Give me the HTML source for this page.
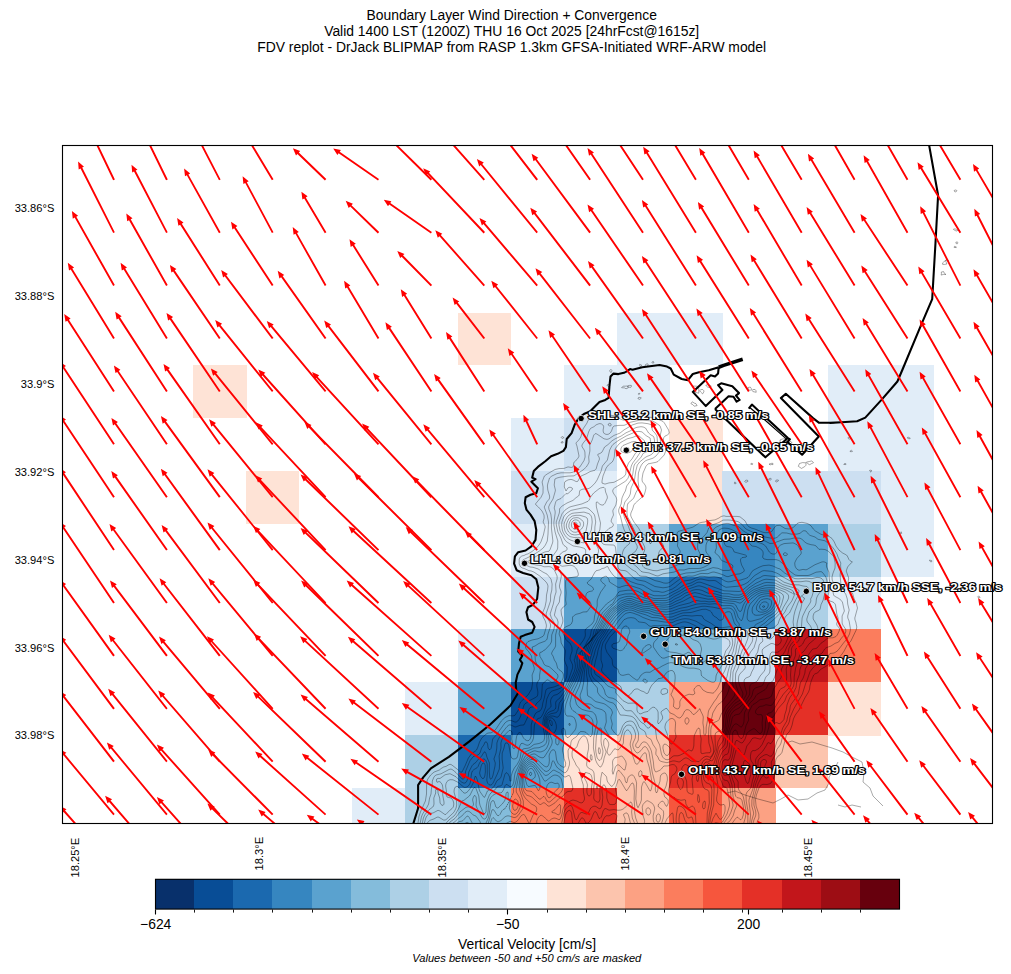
<!DOCTYPE html>
<html><head><meta charset="utf-8"><title>Boundary Layer Wind Direction + Convergence</title>
<style>html,body{margin:0;padding:0;background:#fff;font-family:"Liberation Sans",sans-serif}svg{display:block}svg text{font-family:"Liberation Sans",sans-serif}</style></head>
<body>
<svg width="1011" height="974" viewBox="0 0 1011 974">
<rect width="1011" height="974" fill="#fff"/>
<defs><clipPath id="ax"><rect x="62.50" y="145.50" width="930.00" height="678.00"/></clipPath></defs>
<g clip-path="url(#ax)">
<g shape-rendering="crispEdges">
<rect x="193.35" y="364.95" width="53.20" height="53.20" fill="#fee3d6"/>
<rect x="246.25" y="470.75" width="53.20" height="53.20" fill="#fee3d6"/>
<rect x="352.05" y="788.15" width="53.20" height="53.20" fill="#e1edf8"/>
<rect x="404.95" y="682.35" width="53.20" height="53.20" fill="#e1edf8"/>
<rect x="404.95" y="735.25" width="53.20" height="53.20" fill="#add0e6"/>
<rect x="404.95" y="788.15" width="53.20" height="53.20" fill="#add0e6"/>
<rect x="457.85" y="313.00" width="53.20" height="52.25" fill="#fee3d6"/>
<rect x="457.85" y="629.45" width="53.20" height="53.20" fill="#e1edf8"/>
<rect x="457.85" y="682.35" width="53.20" height="53.20" fill="#5aa2cf"/>
<rect x="457.85" y="735.25" width="53.20" height="53.20" fill="#1b69af"/>
<rect x="457.85" y="788.15" width="53.20" height="53.20" fill="#84bcdb"/>
<rect x="510.75" y="417.85" width="53.20" height="53.20" fill="#e1edf8"/>
<rect x="510.75" y="470.75" width="53.20" height="53.20" fill="#ccdff1"/>
<rect x="510.75" y="523.65" width="53.20" height="53.20" fill="#e1edf8"/>
<rect x="510.75" y="576.55" width="53.20" height="53.20" fill="#ccdff1"/>
<rect x="510.75" y="629.45" width="53.20" height="53.20" fill="#5aa2cf"/>
<rect x="510.75" y="682.35" width="53.20" height="53.20" fill="#084d96"/>
<rect x="510.75" y="735.25" width="53.20" height="53.20" fill="#5aa2cf"/>
<rect x="510.75" y="788.15" width="53.20" height="53.20" fill="#fb7d5d"/>
<rect x="563.65" y="364.95" width="53.20" height="53.20" fill="#e1edf8"/>
<rect x="563.65" y="417.85" width="53.20" height="53.20" fill="#ccdff1"/>
<rect x="563.65" y="470.75" width="53.20" height="53.20" fill="#e1edf8"/>
<rect x="563.65" y="523.65" width="53.20" height="53.20" fill="#e1edf8"/>
<rect x="563.65" y="576.55" width="53.20" height="53.20" fill="#5aa2cf"/>
<rect x="563.65" y="629.45" width="53.20" height="53.20" fill="#084d96"/>
<rect x="563.65" y="682.35" width="53.20" height="53.20" fill="#5aa2cf"/>
<rect x="563.65" y="735.25" width="53.20" height="53.20" fill="#fee3d6"/>
<rect x="563.65" y="788.15" width="53.20" height="53.20" fill="#e43027"/>
<rect x="616.55" y="313.00" width="53.20" height="52.25" fill="#e1edf8"/>
<rect x="616.55" y="364.95" width="53.20" height="53.20" fill="#e1edf8"/>
<rect x="616.55" y="523.65" width="53.20" height="53.20" fill="#add0e6"/>
<rect x="616.55" y="576.55" width="53.20" height="53.20" fill="#3686c0"/>
<rect x="616.55" y="629.45" width="53.20" height="53.20" fill="#5aa2cf"/>
<rect x="616.55" y="682.35" width="53.20" height="53.20" fill="#add0e6"/>
<rect x="616.55" y="735.25" width="53.20" height="53.20" fill="#fcc4ad"/>
<rect x="616.55" y="788.15" width="53.20" height="53.20" fill="#fcc4ad"/>
<rect x="669.45" y="313.00" width="53.20" height="52.25" fill="#e1edf8"/>
<rect x="669.45" y="417.85" width="53.20" height="53.20" fill="#fee3d6"/>
<rect x="669.45" y="470.75" width="53.20" height="53.20" fill="#fee3d6"/>
<rect x="669.45" y="523.65" width="53.20" height="53.20" fill="#5aa2cf"/>
<rect x="669.45" y="576.55" width="53.20" height="53.20" fill="#1b69af"/>
<rect x="669.45" y="629.45" width="53.20" height="53.20" fill="#84bcdb"/>
<rect x="669.45" y="682.35" width="53.20" height="53.20" fill="#fca183"/>
<rect x="669.45" y="735.25" width="53.20" height="53.20" fill="#e43027"/>
<rect x="669.45" y="788.15" width="53.20" height="53.20" fill="#f6563d"/>
<rect x="722.35" y="470.75" width="53.20" height="53.20" fill="#ccdff1"/>
<rect x="722.35" y="523.65" width="53.20" height="53.20" fill="#3686c0"/>
<rect x="722.35" y="576.55" width="53.20" height="53.20" fill="#3686c0"/>
<rect x="722.35" y="629.45" width="53.20" height="53.20" fill="#ccdff1"/>
<rect x="722.35" y="682.35" width="53.20" height="53.20" fill="#67000d"/>
<rect x="722.35" y="735.25" width="53.20" height="53.20" fill="#c2161b"/>
<rect x="722.35" y="788.15" width="53.20" height="53.20" fill="#fca183"/>
<rect x="775.25" y="470.75" width="53.20" height="53.20" fill="#ccdff1"/>
<rect x="775.25" y="523.65" width="53.20" height="53.20" fill="#5aa2cf"/>
<rect x="775.25" y="576.55" width="53.20" height="53.20" fill="#add0e6"/>
<rect x="775.25" y="629.45" width="53.20" height="53.20" fill="#c2161b"/>
<rect x="775.25" y="682.35" width="53.20" height="53.20" fill="#e43027"/>
<rect x="775.25" y="735.25" width="53.20" height="53.20" fill="#fcc4ad"/>
<rect x="828.15" y="364.95" width="53.20" height="53.20" fill="#e1edf8"/>
<rect x="828.15" y="417.85" width="53.20" height="53.20" fill="#e1edf8"/>
<rect x="828.15" y="470.75" width="53.20" height="53.20" fill="#ccdff1"/>
<rect x="828.15" y="523.65" width="53.20" height="53.20" fill="#add0e6"/>
<rect x="828.15" y="576.55" width="53.20" height="53.20" fill="#e1edf8"/>
<rect x="828.15" y="629.45" width="53.20" height="53.20" fill="#fb7d5d"/>
<rect x="828.15" y="682.35" width="53.20" height="53.20" fill="#fee3d6"/>
<rect x="881.05" y="364.95" width="53.20" height="53.20" fill="#e1edf8"/>
<rect x="881.05" y="417.85" width="53.20" height="53.20" fill="#e1edf8"/>
<rect x="881.05" y="470.75" width="53.20" height="53.20" fill="#e1edf8"/>
<rect x="881.05" y="523.65" width="53.20" height="53.20" fill="#e1edf8"/>
</g>
<path d="M415.5 850.0 415.7 842.0 417.2 827.0 418.7 819.0 418.8 817.0 420.8 811.0 422.0 809.0 423.1 806.0 425.4 801.0 426.5 794.0 426.6 784.0 427.3 780.0 428.5 778.0 430.7 775.0 434.0 772.1 439.4 770.0 441.0 768.6 443.7 767.0 446.0 766.4 449.0 764.6 450.0 764.3 451.0 764.5 452.0 765.1 458.0 769.8 460.0 771.7 461.0 772.3 462.0 772.0 465.0 766.0 468.4 758.0 472.0 753.2 475.0 751.4 476.5 750.0 477.9 747.0 479.5 742.0 482.0 737.7 487.0 733.4 489.0 732.9 491.0 732.9 494.0 731.1 496.0 729.0 501.3 721.0 505.0 717.5 509.0 715.6 513.0 715.9 515.0 715.3 518.4 710.0 519.3 705.0 520.6 702.0 528.0 695.0 531.6 689.0 532.6 683.0 532.1 675.0 534.1 670.0 534.3 668.0 532.1 661.0 531.5 656.0 528.0 650.7 526.0 648.8 525.4 647.0 526.7 643.0 528.0 641.6 532.0 640.0 538.0 638.8 543.0 636.3 544.0 634.9 546.3 627.0 546.4 625.0 545.3 621.0 543.2 617.0 542.4 614.0 542.5 613.0 545.0 607.0 546.2 601.0 546.5 595.0 547.6 590.0 548.0 586.0 547.4 584.0 546.0 581.9 540.0 576.2 534.0 572.1 531.0 570.9 529.0 570.7 524.0 568.4 523.0 568.3 520.6 567.0 519.2 564.0 519.2 559.0 520.3 557.0 522.0 555.9 524.0 555.5 526.0 554.4 528.0 553.9 532.0 551.5 536.4 548.0 539.0 545.0 540.9 542.0 543.4 535.0 545.2 527.0 545.0 525.9 543.1 522.0 544.2 518.0 544.0 515.0 542.0 511.0 538.4 507.0 536.0 505.0 535.4 504.0 541.0 497.3 543.0 493.1 543.1 487.0 542.1 482.0 544.4 476.0 547.2 474.0 555.0 469.5 559.0 468.6 564.0 468.4 568.0 466.9 571.0 467.4 572.0 467.4 573.0 466.8 573.4 466.0 573.7 463.0 574.2 462.0 577.0 459.5 578.7 457.0 579.0 456.0 577.0 446.2 575.9 443.0 578.8 440.0 580.8 437.0 583.0 429.0 587.0 423.0 588.0 420.3 593.0 416.1 596.0 415.4 600.0 415.5 602.0 416.9 606.0 415.5 610.0 415.2 615.4 416.0 621.0 419.4 624.0 420.2 627.0 420.0 631.0 419.2 635.0 417.8 640.0 416.6 644.0 416.5 646.0 416.9 648.0 416.8 650.0 417.3 653.0 417.4 655.0 418.3 657.0 418.7 663.0 421.4 664.4 423.0 668.6 430.0 669.3 433.0 669.0 433.6 667.3 435.0 665.0 436.1 664.0 437.2 663.4 439.0 663.6 441.0 665.8 446.0 665.7 451.0 664.2 455.0 658.0 461.5 656.0 462.3 648.0 463.9 646.0 466.2 643.0 473.0 642.0 479.0 642.2 481.0 642.6 482.0 644.4 484.0 645.6 486.0 646.0 488.0 645.1 492.0 644.1 495.0 643.3 496.0 635.4 503.0 633.8 505.0 632.7 509.0 630.9 513.0 630.6 515.0 631.2 517.0 634.0 522.1 638.5 528.0 641.0 532.5 642.0 533.4 645.0 535.1 649.8 540.0 649.5 543.0 650.0 543.6 651.0 543.4 651.4 543.0 651.7 541.0 652.7 540.0 655.0 538.8 656.0 538.6 657.0 538.8 659.0 539.9 662.0 543.0 663.7 546.0 663.7 547.0 661.0 549.2 659.5 551.0 658.7 553.0 658.7 555.0 659.3 556.0 665.0 561.3 668.0 562.1 670.0 561.8 672.0 561.0 677.8 557.0 679.9 553.0 680.2 551.0 677.4 546.0 678.0 541.0 677.1 536.0 677.1 533.0 678.0 531.5 693.0 527.1 699.0 523.1 702.0 522.3 705.0 521.9 707.0 520.9 715.0 519.9 719.0 518.0 721.0 516.5 724.0 515.8 726.0 516.4 737.0 516.4 740.0 516.8 745.0 520.8 747.2 525.0 749.0 526.8 751.4 528.0 755.0 529.1 763.0 532.3 765.0 532.7 769.0 532.6 771.0 532.1 772.1 531.0 775.0 526.7 776.0 525.8 777.0 525.5 780.0 525.3 785.0 528.5 789.0 529.0 793.0 527.8 797.0 523.6 799.0 522.7 802.0 522.3 807.0 523.4 809.0 524.3 811.0 525.8 813.3 529.0 815.4 531.0 821.0 534.3 829.0 536.4 832.0 538.5 834.3 542.0 836.0 546.0 839.0 550.1 842.6 553.0 846.5 555.0 847.3 556.0 849.0 559.6 850.0 560.7 852.4 562.0 850.0 564.1 847.6 567.0 846.2 571.0 848.7 578.0 847.7 585.0 848.2 588.0 849.0 590.1 852.5 593.0 854.2 599.0 856.0 602.5 857.5 608.0 854.8 618.0 855.0 620.0 855.8 622.0 856.8 627.0 856.2 630.0 850.9 641.0 847.0 645.4 844.1 651.0 842.1 654.0 839.0 657.7 837.0 659.6 835.0 660.9 830.7 663.0 826.0 666.3 821.3 669.0 820.0 670.0 817.6 673.0 815.0 673.8 813.7 675.0 811.2 681.0 809.9 686.0 809.6 689.0 808.5 692.0 804.8 698.0 799.0 710.0 795.3 715.0 793.4 719.0 792.1 725.0 790.7 729.0 789.0 732.1 787.0 734.0 786.4 735.0 782.0 752.3 780.0 755.0 778.0 756.1 776.0 759.0 775.4 762.0 775.5 771.0 774.6 775.0 773.0 779.8 771.0 783.0 770.0 783.7 767.0 784.5 763.0 784.3 762.0 784.6 760.0 786.2 759.0 787.8 756.4 795.0 755.5 800.0 756.1 806.0 758.8 814.0 758.9 818.0 757.2 822.0 757.2 831.0 755.9 833.0 754.0 840.0 752.8 850.0M608.3 424.0 609.0 423.4 610.0 423.3 611.0 424.0 611.3 425.0 611.0 425.6 610.0 426.0 609.0 425.7 608.2 425.0 608.3 424.0M690.3 534.0 692.0 533.6 693.0 534.2 693.9 536.0 694.2 538.0 693.0 539.1 688.0 539.6 687.3 539.0 689.4 535.0 690.3 534.0M416.5 850.0 416.7 844.0 418.5 836.0 419.8 825.0 421.4 817.0 422.6 814.0 427.1 807.0 428.6 804.0 429.6 798.0 431.0 794.0 431.4 789.0 432.2 786.0 432.3 781.0 434.0 776.8 436.0 775.0 441.0 773.8 449.0 769.5 451.0 769.0 452.9 770.0 456.0 772.6 462.0 778.9 463.0 779.1 464.0 778.5 464.7 777.0 465.7 771.0 470.0 760.7 473.0 756.9 474.0 756.2 477.8 755.0 479.2 754.0 480.0 752.9 481.6 748.0 483.8 745.0 485.0 742.1 486.0 741.8 487.0 742.5 487.6 744.0 488.1 748.0 489.0 749.4 490.0 749.7 491.0 748.4 491.4 747.0 492.7 739.0 497.0 734.1 504.9 723.0 507.0 721.3 509.0 720.5 511.0 720.4 515.0 722.1 516.2 722.0 517.8 721.0 519.3 719.0 520.7 716.0 524.0 705.0 525.0 703.8 530.0 700.4 536.4 697.0 537.3 696.0 537.7 695.0 537.9 692.0 536.8 686.0 536.9 684.0 537.6 682.0 539.6 679.0 539.6 675.0 540.4 670.0 539.6 668.0 537.0 664.5 535.8 662.0 535.3 660.0 535.0 655.0 532.6 650.0 532.2 647.0 535.0 646.0 539.0 643.4 545.0 641.2 546.5 640.0 547.1 639.0 548.0 634.0 550.4 627.0 550.6 625.0 550.1 623.0 547.0 617.0 546.0 614.0 550.5 601.0 550.6 595.0 551.8 590.0 552.1 584.0 551.0 579.1 547.0 574.1 543.0 572.1 538.0 568.9 533.0 567.3 530.0 567.0 524.0 564.2 522.9 563.0 522.9 561.0 523.0 559.9 533.0 555.0 539.4 551.0 543.2 548.0 545.4 545.0 547.3 541.0 548.0 534.0 548.5 522.0 547.2 515.0 544.2 507.0 546.7 502.0 549.0 499.3 549.6 498.0 549.6 496.0 547.8 490.0 547.4 486.0 547.7 484.0 549.5 478.0 551.9 476.0 557.0 473.6 561.0 472.8 570.0 472.8 573.0 472.2 576.7 470.0 579.8 467.0 584.0 460.6 585.1 457.0 584.9 452.0 584.2 450.0 582.2 447.0 581.9 446.0 582.0 445.0 583.2 443.0 586.5 439.0 588.6 432.0 590.0 429.0 591.0 428.1 594.0 426.7 596.0 424.9 599.0 423.7 600.0 423.6 601.6 424.0 602.9 425.0 603.6 426.0 603.7 427.0 603.1 430.0 603.3 432.0 603.8 433.0 604.8 434.0 607.0 434.5 608.9 434.0 610.1 433.0 611.5 431.0 612.9 427.0 614.2 426.0 619.0 425.4 624.0 425.3 626.0 424.6 629.0 422.7 631.0 422.1 639.0 420.3 643.0 420.2 652.5 421.0 656.0 422.9 660.0 425.8 661.5 430.0 660.5 434.0 660.1 438.0 661.0 445.0 661.0 448.0 660.7 449.0 659.2 452.0 656.0 456.0 653.0 458.2 647.0 460.1 645.2 461.0 642.9 463.0 641.4 465.0 640.0 468.0 638.4 473.0 638.0 481.0 638.9 487.0 638.1 489.0 636.2 492.0 633.7 498.0 632.0 499.9 628.2 503.0 627.4 505.0 626.9 513.0 627.6 517.0 629.9 521.0 635.6 533.0 639.0 538.1 643.0 543.3 644.7 547.0 644.8 549.0 644.4 551.0 643.5 553.0 641.5 560.0 642.3 565.0 643.0 566.5 644.0 567.6 646.0 568.6 653.0 570.5 657.0 570.8 661.0 569.7 667.0 568.8 673.0 567.0 678.0 564.6 683.0 564.3 687.0 562.6 692.0 563.5 696.0 562.9 700.0 563.6 701.7 563.0 703.0 561.7 703.5 560.0 703.2 559.0 700.6 555.0 697.8 549.0 697.6 547.0 697.9 541.0 703.0 537.1 705.0 535.0 707.0 532.6 708.7 528.0 712.0 525.0 719.0 522.5 723.0 520.1 728.0 520.0 731.0 520.2 738.0 521.6 742.0 524.4 745.0 528.1 747.0 529.6 763.0 536.7 772.0 538.3 775.0 538.2 777.0 537.4 778.7 536.0 780.3 534.0 782.0 532.8 786.7 533.0 791.0 534.1 797.0 534.1 800.0 533.3 803.0 530.9 804.0 530.7 806.0 531.0 808.3 534.0 810.0 535.4 815.0 537.0 818.0 539.3 825.0 540.8 829.0 543.6 833.0 547.8 834.6 550.0 837.0 554.0 838.0 557.0 840.8 563.0 840.6 565.0 840.8 569.0 840.1 575.0 840.8 583.0 840.2 588.0 841.0 589.6 844.0 591.9 845.7 594.0 847.3 599.0 847.7 604.0 849.2 610.0 847.7 616.0 847.8 618.0 849.1 621.0 850.3 628.0 850.4 630.0 849.5 634.0 847.0 638.9 843.5 643.0 838.0 650.3 836.0 651.9 834.0 653.0 830.0 653.5 828.8 655.0 827.9 658.0 825.5 661.0 823.0 662.7 819.0 663.1 817.0 663.9 813.6 667.0 810.0 671.7 807.2 680.0 805.8 683.0 802.4 694.0 793.7 709.0 790.0 717.6 789.5 721.0 788.4 724.0 785.0 729.0 783.6 732.0 781.0 743.1 780.0 745.2 777.0 749.2 775.1 755.0 771.3 762.0 771.5 770.0 770.6 774.0 769.0 776.6 767.1 778.0 766.0 778.0 763.5 776.0 763.1 775.0 765.0 771.0 764.8 766.0 766.5 762.0 766.4 761.0 765.8 760.0 764.0 759.3 762.4 760.0 761.0 761.7 760.5 764.0 760.8 770.0 762.0 773.8 762.9 775.0 762.6 776.0 761.0 778.0 758.0 783.9 754.0 798.0 753.9 805.0 755.6 811.0 755.9 814.0 755.6 816.0 753.9 820.0 753.2 823.0 753.0 830.0 750.8 844.0 750.4 850.0M737.3 850.0 736.0 846.7 735.0 845.4 734.0 845.4 733.7 846.0 733.0 848.0 732.9 850.0M746.8 850.0 746.0 846.7 745.0 845.2 744.0 844.8 743.0 845.4 742.0 846.9 740.8 850.0M417.7 850.0 418.0 844.2 420.9 837.0 421.3 828.0 423.4 818.0 424.7 815.0 426.8 812.0 429.0 809.8 432.8 807.0 433.5 806.0 434.0 804.0 433.8 798.0 435.7 793.0 435.6 790.0 436.0 789.2 437.0 789.2 438.0 791.0 438.0 793.0 439.7 798.0 440.1 803.0 441.0 804.5 442.0 805.2 443.0 805.4 444.0 804.1 444.0 802.0 442.7 795.0 443.0 789.0 442.4 785.0 441.0 782.7 440.0 781.8 439.0 781.5 437.0 782.3 436.4 781.0 436.7 779.0 438.0 778.3 440.0 778.5 445.0 774.8 450.0 773.7 456.0 776.8 460.2 781.0 462.0 782.4 464.0 783.2 465.0 783.0 466.0 782.4 466.9 781.0 468.1 777.0 468.8 772.0 472.0 765.8 473.0 764.5 476.0 762.3 477.7 760.0 481.7 756.0 484.0 752.2 485.0 751.8 486.0 753.5 486.9 757.0 489.4 763.0 489.3 771.0 489.7 777.0 490.0 778.6 491.0 779.2 492.0 778.1 493.0 775.2 495.0 766.0 495.3 763.0 493.9 759.0 496.0 753.0 496.8 748.0 496.9 743.0 497.9 740.0 501.9 733.0 507.0 726.6 509.0 724.9 511.0 725.0 515.0 727.0 516.0 726.9 520.0 725.3 524.0 724.9 527.7 717.0 528.0 715.0 527.8 712.0 529.0 709.0 530.0 707.7 531.0 707.2 534.0 706.7 535.0 706.0 536.9 703.0 540.0 700.4 540.9 699.0 541.6 696.0 542.4 684.0 547.0 679.9 548.0 679.9 551.0 682.0 552.0 682.3 554.0 681.8 556.3 680.0 558.0 677.0 557.8 675.0 557.1 674.0 552.0 669.0 549.0 666.6 546.0 665.8 544.0 664.3 542.7 661.0 540.0 656.5 539.6 654.0 540.0 652.4 542.0 652.0 542.8 651.0 545.0 649.9 550.0 644.4 551.0 642.8 551.6 641.0 551.7 635.0 554.0 629.1 554.6 625.0 553.9 622.0 551.4 618.0 550.1 614.0 553.3 604.0 554.8 596.0 556.1 592.0 555.6 584.0 557.1 579.0 557.1 576.0 554.3 570.0 552.5 568.0 551.0 567.0 549.0 566.6 544.0 566.8 541.0 565.5 536.0 565.0 531.0 563.8 527.0 562.0 538.0 555.2 543.0 552.8 545.0 551.9 549.0 551.2 549.9 550.0 552.5 543.0 552.9 541.0 551.4 528.0 551.5 519.0 550.8 514.0 549.0 509.4 548.6 507.0 549.9 504.0 553.0 499.0 555.3 491.0 555.4 490.0 554.2 485.0 554.9 479.0 557.0 478.0 560.0 477.2 568.0 476.1 574.0 475.9 583.0 470.0 586.3 467.0 588.2 464.0 589.1 462.0 588.7 457.0 589.9 451.0 589.8 445.0 592.2 440.0 593.8 435.0 595.0 433.8 596.0 433.6 597.0 434.1 604.0 438.8 607.0 439.4 609.0 438.8 614.0 435.4 620.0 433.1 624.0 429.9 632.2 425.0 638.0 423.1 642.0 422.9 648.0 423.7 650.0 424.3 651.2 425.0 651.7 426.0 652.3 430.0 653.0 431.1 655.0 433.0 657.0 436.0 657.8 446.0 656.3 449.0 652.1 454.0 650.0 455.3 647.0 456.4 645.0 457.6 639.7 462.0 637.3 465.0 635.8 471.0 634.3 481.0 631.0 488.0 630.3 494.0 628.9 497.0 624.9 502.0 622.9 509.0 622.6 511.0 624.6 518.0 628.3 526.0 629.7 530.0 633.5 537.0 635.1 542.0 637.0 545.6 637.3 547.0 637.3 548.0 635.7 551.0 634.8 552.0 632.0 553.9 631.1 555.0 630.4 557.0 630.7 560.0 632.2 563.0 637.0 567.0 641.0 571.3 643.0 572.1 649.0 572.9 656.0 575.7 658.0 576.0 663.0 573.8 674.0 572.1 679.0 569.9 684.0 570.0 689.0 568.5 698.0 568.5 701.0 568.2 704.0 567.1 708.0 565.0 710.3 563.0 711.3 560.0 711.2 559.0 710.2 557.0 706.7 553.0 705.8 551.0 706.0 545.0 707.0 542.0 708.0 540.6 711.0 538.8 711.7 538.0 712.4 536.0 712.9 531.0 713.9 529.0 714.9 528.0 716.4 527.0 723.0 524.0 727.0 523.4 729.0 523.6 733.0 525.2 738.0 526.4 744.0 531.4 752.0 536.0 757.0 538.4 765.0 541.0 770.0 543.5 773.0 543.3 784.0 539.3 790.0 539.0 794.0 538.0 800.0 538.2 802.0 539.3 805.0 542.2 807.0 543.5 811.0 544.7 814.0 545.1 816.0 545.9 819.0 549.4 821.0 549.2 825.0 549.5 828.0 551.0 833.3 556.0 833.8 557.0 835.2 563.0 835.0 568.0 833.0 573.1 832.0 577.0 832.2 580.0 833.9 584.0 833.9 586.0 833.0 591.0 833.2 593.0 833.6 595.0 834.3 596.0 839.8 599.0 842.4 602.0 844.4 611.0 842.1 616.0 842.1 623.0 842.8 625.0 845.5 629.0 845.9 631.0 845.4 633.0 844.0 635.4 841.5 638.0 838.6 642.0 835.0 643.4 831.0 646.0 826.0 647.8 824.7 649.0 822.2 653.0 821.0 654.0 815.0 655.1 813.0 655.9 811.7 657.0 810.0 659.6 807.6 665.0 805.3 669.0 804.9 673.0 803.2 678.0 800.3 683.0 798.3 694.0 797.2 696.0 791.3 704.0 790.3 706.0 789.6 711.0 787.6 717.0 786.8 721.0 782.7 728.0 780.0 736.6 777.6 740.0 776.7 742.0 773.0 754.2 772.0 755.6 771.0 756.3 769.3 756.0 767.0 754.6 766.0 754.5 764.0 755.2 760.0 757.9 759.0 759.1 758.1 761.0 757.9 764.0 758.6 776.0 755.7 784.0 751.9 800.0 751.8 806.0 753.5 812.0 753.6 814.0 751.6 821.0 751.4 829.0 750.0 839.0 749.4 841.0 749.0 841.9 748.0 842.7 745.0 840.6 744.0 840.4 743.0 840.7 740.0 844.5 739.0 844.8 736.0 840.1 735.0 839.4 734.0 839.6 732.7 841.0 731.5 844.0 731.0 847.0 730.9 850.0M420.8 850.0 421.1 846.0 423.0 843.0 424.3 839.0 424.3 837.0 423.1 830.0 423.5 826.0 425.8 818.0 427.0 815.7 429.0 813.8 430.0 813.4 433.0 813.0 438.0 810.3 440.0 811.0 445.0 814.6 446.0 814.3 450.0 810.1 452.0 808.6 453.3 807.0 453.8 804.0 453.5 802.0 452.8 800.0 451.0 798.0 447.0 797.0 446.2 795.0 446.4 791.0 445.6 786.0 446.0 783.6 447.0 781.5 448.0 780.6 450.0 779.7 453.0 779.8 458.0 782.3 464.0 787.3 465.0 787.5 467.0 787.0 469.0 785.2 470.2 783.0 471.6 773.0 472.4 771.0 474.0 769.5 477.0 767.8 478.0 766.6 479.5 763.0 480.8 761.0 482.0 759.7 483.0 759.1 484.0 758.9 485.0 759.5 486.0 760.8 487.2 764.0 487.3 774.0 486.8 780.0 487.2 782.0 488.0 783.7 489.0 784.7 490.0 785.1 491.0 785.0 492.0 784.4 493.0 783.1 497.3 774.0 499.3 769.0 499.6 763.0 499.1 756.0 501.0 748.0 500.9 743.0 501.8 740.0 504.0 735.7 509.0 730.6 510.0 730.3 511.4 731.0 512.2 733.0 511.7 739.0 512.6 743.0 512.7 747.0 513.0 748.1 514.0 748.6 515.0 748.0 515.4 747.0 516.0 740.0 516.7 736.0 518.0 733.6 519.0 732.7 520.0 732.5 521.0 733.1 523.5 738.0 525.0 739.6 527.0 740.7 528.0 740.7 529.0 740.3 530.1 739.0 531.1 736.0 531.2 725.0 532.2 721.0 534.7 715.0 535.9 713.0 537.0 712.2 540.0 711.0 541.4 709.0 542.2 707.0 542.8 703.0 544.3 698.0 546.0 689.7 548.0 688.3 553.9 687.0 558.9 685.0 560.0 684.2 561.0 682.8 563.1 678.0 563.4 676.0 563.3 674.0 562.0 671.8 559.0 669.6 557.6 668.0 556.3 663.0 554.4 660.0 553.0 656.0 551.6 654.0 551.7 653.0 552.6 651.0 554.7 648.0 555.6 646.0 555.6 635.0 557.5 627.0 558.1 622.0 557.2 619.0 555.0 616.3 554.4 615.0 556.3 607.0 559.4 602.0 559.8 597.0 561.1 593.0 561.0 591.0 559.7 588.0 559.4 586.0 561.2 577.0 561.3 575.0 560.3 571.0 559.0 568.8 554.0 564.3 548.3 561.0 548.0 560.0 552.8 556.0 557.1 550.0 557.7 548.0 557.8 541.0 555.1 532.0 553.9 525.0 553.9 522.0 555.2 513.0 555.1 511.0 554.2 508.0 555.4 503.0 556.0 501.4 557.0 500.1 561.0 498.5 566.0 493.5 567.0 493.9 568.0 493.5 572.0 490.0 572.5 489.0 572.2 488.0 571.0 487.4 569.0 487.3 567.9 488.0 566.0 491.0 564.3 487.0 564.6 482.0 565.0 481.6 568.0 479.9 571.0 479.4 573.1 480.0 576.0 481.5 577.0 481.6 578.0 481.1 580.0 477.1 581.1 476.0 586.0 473.9 590.0 471.6 595.0 470.2 596.1 469.0 597.5 464.0 599.5 459.0 599.0 457.0 597.6 455.0 598.2 454.0 600.0 453.5 602.0 452.1 604.6 447.0 608.0 444.6 612.0 440.8 615.0 438.9 621.2 436.0 626.0 432.8 630.0 431.0 635.0 428.0 637.0 427.3 641.0 426.7 643.2 427.0 645.5 428.0 648.6 433.0 651.0 435.0 653.0 436.0 653.8 437.0 654.5 440.0 654.3 445.0 653.0 447.2 649.0 450.8 643.7 453.0 642.8 454.0 641.2 457.0 634.8 464.0 633.9 466.0 632.8 474.0 631.1 480.0 626.7 486.0 625.4 491.0 623.7 494.0 622.0 498.0 621.1 504.0 618.9 509.0 618.6 511.0 619.0 513.0 620.4 516.0 622.5 525.0 624.2 530.0 625.3 532.0 627.2 534.0 628.6 536.0 629.6 541.0 629.7 543.0 629.1 544.0 625.5 547.0 624.0 549.0 623.0 551.0 621.9 556.0 622.5 559.0 624.0 562.7 624.9 564.0 632.0 569.6 636.0 571.8 639.0 575.4 641.0 576.2 646.0 576.4 655.0 580.6 660.0 581.7 663.8 583.0 666.0 583.2 668.0 583.0 670.0 582.1 674.0 578.6 680.0 574.6 686.0 573.0 694.0 572.5 700.0 571.0 705.9 570.0 713.0 567.6 718.0 568.3 723.0 570.5 729.0 570.4 731.0 569.7 732.0 568.8 732.9 567.0 732.8 566.0 732.3 565.0 730.6 564.0 722.0 560.7 721.0 559.8 718.9 556.0 715.2 553.0 715.0 552.0 716.4 548.0 716.1 542.0 716.3 536.0 716.8 534.0 719.0 530.0 722.0 528.4 724.0 528.1 728.0 528.4 731.0 529.3 756.0 541.6 763.0 544.1 765.6 546.0 769.3 552.0 771.0 553.4 773.0 554.1 775.0 554.0 776.5 553.0 778.4 547.0 780.7 545.0 784.0 543.6 793.0 542.9 794.0 543.2 797.0 544.8 798.0 545.8 801.3 552.0 801.0 554.0 797.0 558.3 795.5 561.0 794.7 563.0 795.0 566.0 796.0 568.0 797.0 569.2 799.0 570.3 803.0 569.4 806.0 569.8 807.0 569.5 815.0 564.7 822.0 561.9 824.0 561.8 826.8 563.0 826.4 565.0 826.6 567.0 828.9 572.0 829.3 579.0 830.2 585.0 828.1 596.0 828.1 598.0 829.0 600.3 830.0 601.1 832.0 601.6 834.0 602.7 835.1 604.0 835.5 605.0 836.8 614.0 838.1 618.0 837.9 620.0 836.6 624.0 837.0 625.3 839.2 628.0 839.6 629.0 839.2 631.0 837.2 635.0 836.0 636.5 833.0 637.8 829.0 637.9 827.0 638.6 824.3 641.0 821.0 643.2 817.0 648.0 816.0 648.5 813.0 649.0 812.0 649.7 806.2 658.0 804.2 662.0 800.7 667.0 799.8 670.0 799.6 674.0 796.9 681.0 796.0 687.5 793.4 693.0 790.2 697.0 789.2 699.0 787.0 705.0 786.3 710.0 784.7 715.0 784.0 719.3 782.0 721.9 780.0 723.5 779.0 723.7 777.0 722.7 776.0 722.5 775.0 723.0 774.5 724.0 774.2 726.0 775.4 730.0 775.3 733.0 774.1 738.0 773.0 740.7 771.0 743.6 770.0 743.5 769.0 742.7 768.0 742.6 767.5 743.0 766.7 745.0 762.9 751.0 758.0 755.7 755.8 759.0 755.5 761.0 756.4 768.0 756.5 776.0 754.0 783.0 752.9 789.0 749.2 799.0 748.9 801.0 750.6 815.0 749.9 822.0 750.0 829.0 748.1 837.0 747.0 837.6 745.0 836.8 744.0 836.8 740.0 838.9 739.0 838.7 738.2 838.0 736.0 835.4 735.0 834.9 734.0 835.2 731.6 838.0 729.5 842.0 727.8 847.0 728.1 850.0M784.0 553.0 785.0 552.7 786.4 553.0 787.4 554.0 787.2 555.0 786.0 555.6 784.0 555.4 783.6 555.0 783.4 554.0 784.0 553.0M576.0 553.2 576.0 554.2 577.1 554.0 576.0 553.2M483.0 763.0 484.0 763.0 485.2 765.0 485.4 772.0 484.8 776.0 484.0 778.0 483.0 778.7 482.0 778.2 480.4 776.0 479.6 773.0 481.2 766.0 482.0 764.0 483.0 763.0M737.0 765.3 736.0 766.5 735.6 768.0 735.9 770.0 737.0 770.9 738.0 770.7 739.0 768.0 738.0 765.4 737.0 765.3M425.7 850.0 427.1 843.0 427.3 840.0 427.3 837.0 425.7 829.0 426.0 826.3 427.0 823.5 428.0 822.0 430.0 820.3 434.0 818.9 437.0 817.2 438.0 817.0 439.0 817.3 443.5 820.0 445.0 820.1 446.0 819.7 454.0 812.2 456.1 808.0 456.7 805.0 456.5 801.0 454.0 792.0 454.3 789.0 455.3 787.0 457.0 786.2 458.0 786.7 463.0 792.2 464.0 793.0 465.0 793.2 466.0 792.9 468.0 791.3 470.5 788.0 473.7 782.0 475.0 776.4 476.0 776.6 477.7 781.0 479.0 788.8 480.0 791.7 484.0 797.4 485.0 796.8 487.4 791.0 493.0 787.7 494.3 786.0 497.0 780.6 500.0 778.6 501.0 777.0 503.2 768.0 502.1 759.0 502.2 753.0 503.7 749.0 505.0 743.6 506.0 742.9 507.0 742.9 508.0 743.6 508.8 745.0 510.8 756.0 511.6 758.0 513.0 758.9 514.0 759.0 516.0 758.6 516.8 758.0 517.6 756.0 518.5 751.0 520.0 745.6 521.0 743.7 522.0 743.3 523.0 743.5 526.0 745.0 528.0 745.3 530.0 744.2 532.5 741.0 533.5 738.0 534.3 726.0 534.7 724.0 537.0 719.4 538.0 718.5 540.0 718.0 541.0 717.3 543.0 713.9 545.7 707.0 546.8 699.0 549.1 694.0 550.6 692.0 552.0 691.0 558.0 689.2 560.7 688.0 562.0 687.0 563.5 685.0 566.6 677.0 567.0 674.0 567.2 667.0 565.4 663.0 564.4 660.0 565.3 652.0 565.2 650.0 561.2 643.0 560.6 638.0 559.1 634.0 559.8 630.0 562.5 623.0 562.9 621.0 562.6 618.0 561.5 615.0 561.0 610.0 562.0 608.2 565.9 605.0 566.2 604.0 565.6 600.0 566.1 593.0 565.6 586.0 565.6 582.0 566.0 580.2 567.0 579.0 569.0 577.9 577.0 576.6 578.0 576.0 578.4 574.0 577.2 570.0 575.8 568.0 574.0 566.3 572.0 565.5 570.0 565.3 562.0 566.3 558.0 563.6 555.3 560.0 561.4 553.0 563.0 551.9 566.0 550.8 566.8 550.0 567.1 549.0 567.0 548.0 566.4 547.0 564.0 545.5 562.9 544.0 560.9 538.0 557.9 532.0 556.3 525.0 556.2 522.0 559.3 513.0 559.6 511.0 559.5 509.0 560.1 508.0 562.2 506.0 567.0 503.0 573.0 500.4 576.0 497.7 578.5 496.0 579.2 495.0 579.6 491.0 580.4 490.0 583.0 489.1 587.0 488.9 589.0 488.4 591.2 487.0 595.1 483.0 597.1 480.0 601.0 471.3 602.4 466.0 607.4 460.0 609.7 450.0 611.8 446.0 613.0 444.4 619.0 440.1 627.0 435.5 636.0 431.7 639.0 431.4 642.0 431.9 646.0 435.6 650.1 438.0 650.5 441.0 650.2 443.0 649.0 444.6 641.0 451.1 636.5 458.0 632.7 463.0 631.3 466.0 629.0 475.5 628.0 478.2 627.0 479.7 625.0 481.5 614.5 488.0 613.0 489.4 612.7 491.0 612.9 492.0 613.9 494.0 616.1 497.0 616.8 500.0 615.9 505.0 613.0 510.0 612.8 511.0 613.5 515.0 611.6 519.0 611.1 521.0 611.4 522.0 613.2 524.0 613.4 525.0 613.0 526.2 612.0 527.0 609.0 528.4 606.0 531.5 602.9 534.0 601.4 536.0 600.8 538.0 601.2 541.0 602.0 542.9 603.0 544.0 605.0 544.7 613.0 545.0 614.0 545.2 615.0 546.1 615.6 548.0 616.1 553.0 618.2 560.0 617.8 566.0 618.2 568.0 619.0 569.4 621.0 570.3 625.0 570.6 627.0 571.5 633.9 578.0 637.0 579.8 645.0 581.3 655.0 586.5 663.0 587.8 667.0 587.3 670.0 586.4 682.0 577.5 688.0 576.0 692.0 576.2 694.0 575.9 700.0 573.7 702.0 573.4 708.0 573.7 712.0 572.2 714.0 572.0 718.0 573.1 723.4 575.0 726.0 576.3 728.0 576.7 735.0 574.4 740.0 573.8 743.4 572.0 744.2 571.0 744.3 570.0 741.6 565.0 740.5 561.0 740.6 559.0 742.0 557.6 746.0 557.1 746.8 556.0 745.4 555.0 734.2 552.0 732.9 549.0 731.0 547.1 727.0 546.5 726.0 546.0 725.0 544.7 724.3 543.0 723.8 541.0 723.9 540.0 725.0 537.0 726.0 536.2 728.0 535.8 731.9 537.0 736.0 536.8 740.0 537.9 748.0 542.0 750.4 544.0 751.0 545.1 752.0 546.0 756.0 546.5 760.0 548.5 762.0 550.1 763.0 551.8 763.2 554.0 762.6 557.0 763.0 558.0 764.0 558.9 767.0 559.6 776.0 559.6 779.0 560.5 784.5 565.0 789.0 570.6 795.1 575.0 798.0 575.5 808.0 575.5 810.0 575.0 816.0 572.2 821.0 571.6 822.0 572.0 823.0 573.1 825.9 577.0 826.8 580.0 827.3 584.0 826.6 589.0 824.1 596.0 823.2 600.0 821.0 604.7 820.1 609.0 819.4 610.0 815.0 612.1 814.0 613.3 813.1 616.0 813.2 619.0 816.9 625.0 817.8 628.0 817.6 632.0 816.0 637.2 814.9 639.0 809.0 643.9 804.0 651.1 801.0 653.6 799.8 655.0 795.6 668.0 794.2 677.0 794.1 683.0 793.6 686.0 791.9 689.0 786.6 696.0 785.0 700.3 784.0 702.0 778.0 708.7 774.0 715.7 770.0 720.0 769.2 722.0 768.9 727.0 766.5 735.0 762.0 744.7 759.0 748.4 755.0 750.7 753.0 750.5 752.0 751.0 751.0 752.7 750.4 756.0 750.6 759.0 751.3 761.0 753.0 763.6 753.9 766.0 754.1 774.0 753.9 776.0 752.4 781.0 751.0 787.4 750.0 789.1 747.0 792.0 746.0 794.7 746.2 801.0 747.8 810.0 747.9 829.0 747.0 830.6 746.4 831.0 741.0 833.1 740.0 833.1 737.0 830.9 736.0 830.4 735.0 830.3 734.0 830.8 730.0 834.8 729.0 835.3 726.0 834.1 725.0 834.4 723.9 836.0 720.9 845.0 720.6 847.0 720.7 850.0M636.0 436.0 638.0 435.8 639.1 436.0 644.8 441.0 641.2 447.0 634.9 454.0 632.0 458.9 628.5 463.0 626.1 469.0 625.8 474.0 625.0 475.6 622.0 478.0 614.0 482.3 609.0 482.9 605.0 484.1 602.0 483.1 602.0 481.0 603.0 476.0 606.2 468.0 608.4 465.0 612.2 462.0 613.4 460.0 614.3 457.0 614.8 450.0 615.7 448.0 619.0 444.0 621.0 442.3 627.0 438.9 633.0 437.3 636.0 436.0M600.5 488.0 603.0 487.4 604.0 487.4 605.0 488.4 605.6 492.0 607.2 496.0 607.4 498.0 605.0 503.2 604.0 504.4 603.0 505.0 602.0 505.1 600.0 504.4 597.0 501.7 596.5 502.0 596.2 503.0 596.4 507.0 600.5 523.0 599.8 530.0 597.0 535.4 595.3 541.0 595.4 543.0 598.4 549.0 598.5 552.0 597.3 555.0 596.0 557.0 593.4 557.0 587.0 558.3 586.0 558.0 585.5 557.0 585.7 551.0 585.6 550.0 585.0 548.9 583.3 548.0 579.6 547.0 573.0 545.9 566.9 542.0 565.0 540.2 560.1 531.0 558.9 525.0 559.0 522.0 562.0 513.8 565.0 510.1 569.0 507.4 571.0 506.6 582.0 503.9 588.0 501.3 589.2 500.0 590.5 497.0 593.7 493.0 599.0 488.8 600.5 488.0M744.0 761.0 745.0 760.5 746.0 760.8 748.0 762.5 750.0 765.1 751.0 768.0 751.0 771.0 750.6 775.0 749.4 779.0 748.9 782.0 748.0 783.6 747.0 783.0 746.0 781.2 743.1 771.0 743.3 764.0 744.0 761.0M429.5 850.0 430.7 841.0 430.8 832.0 432.0 829.2 433.0 828.9 435.1 831.0 436.0 831.7 437.0 831.8 438.0 831.1 438.7 830.0 440.3 826.0 442.0 825.0 445.0 824.4 449.0 819.9 454.0 816.0 455.6 814.0 458.9 808.0 461.8 801.0 464.0 800.3 469.3 796.0 470.1 795.0 473.0 789.0 474.0 787.7 475.0 787.4 476.0 788.5 478.8 796.0 479.5 803.0 480.0 805.2 483.0 812.2 484.0 813.6 485.0 813.6 486.0 811.7 486.3 806.0 487.4 800.0 489.4 795.0 490.9 793.0 494.8 790.0 497.0 787.0 498.0 786.3 501.0 785.9 502.0 784.8 505.0 774.0 506.0 772.8 507.0 772.9 508.0 773.9 509.6 777.0 510.0 781.0 511.0 781.1 511.2 776.0 512.4 772.0 514.3 768.0 517.0 764.6 519.1 761.0 520.2 758.0 521.0 752.5 522.1 750.0 523.0 749.1 524.0 748.7 528.0 748.2 530.0 747.5 534.0 744.4 539.0 743.5 542.5 742.0 544.0 740.3 544.6 738.0 544.6 735.0 543.3 728.0 542.9 723.0 543.3 719.0 544.2 716.0 547.0 710.5 550.8 707.0 551.1 706.0 550.5 701.0 551.0 699.0 552.1 697.0 554.0 695.3 557.0 694.5 558.0 693.9 561.0 691.5 564.0 688.5 565.7 686.0 569.2 678.0 572.6 668.0 572.7 665.0 570.0 659.0 570.4 656.0 572.1 651.0 571.9 647.0 570.0 643.1 567.0 640.8 566.0 639.6 562.9 633.0 563.1 630.0 564.0 628.3 565.3 627.0 570.0 625.0 571.2 624.0 572.6 621.0 572.5 617.0 573.5 616.0 576.0 614.3 580.0 613.3 583.0 612.0 587.0 611.8 591.0 606.3 591.3 605.0 590.5 603.0 589.0 601.9 586.8 601.0 585.8 600.0 585.6 599.0 585.8 596.0 586.2 594.0 587.0 592.8 589.0 591.6 592.2 591.0 593.3 590.0 593.5 589.0 592.5 587.0 588.0 584.2 587.2 583.0 587.6 582.0 591.0 579.2 595.0 572.0 596.0 570.8 600.0 569.8 602.0 568.5 604.0 568.2 607.0 566.5 608.0 566.8 609.4 570.0 613.0 575.0 615.0 576.8 618.0 578.6 620.0 578.7 624.0 577.7 625.0 578.0 628.0 580.3 631.7 582.0 637.0 583.9 643.0 585.2 653.0 591.2 658.0 591.4 662.0 592.3 664.0 592.1 672.3 589.0 675.4 587.0 681.0 582.3 683.0 581.2 691.0 579.9 700.0 576.4 703.0 576.3 709.0 577.1 714.0 576.7 717.0 577.1 720.0 578.0 725.0 581.0 728.0 581.9 731.0 581.6 735.0 580.4 740.0 580.2 746.0 578.4 748.0 577.3 749.3 576.0 752.0 571.4 754.0 569.9 759.0 567.3 763.0 565.7 769.0 565.1 773.0 566.0 777.0 568.0 780.0 569.0 784.7 573.0 792.0 577.4 795.0 578.6 798.0 578.8 806.0 578.3 812.0 578.6 817.0 577.4 820.0 577.7 822.0 578.8 823.1 580.0 823.8 582.0 823.8 584.0 821.7 590.0 818.0 595.0 817.0 597.0 816.4 599.0 816.0 603.0 815.4 605.0 814.1 607.0 809.7 611.0 808.7 613.0 806.8 619.0 806.8 620.0 807.3 622.0 810.5 626.0 811.4 628.0 812.1 632.0 811.5 634.0 809.9 636.0 806.0 638.2 805.1 639.0 802.7 644.0 801.0 645.6 796.8 648.0 795.8 649.0 795.4 650.0 795.6 654.0 795.3 656.0 791.2 666.0 790.5 675.0 791.2 683.0 790.8 685.0 789.9 687.0 783.5 694.0 779.0 700.7 773.0 710.8 771.0 712.5 768.0 713.3 767.5 714.0 765.5 722.0 765.4 727.0 764.8 731.0 763.6 735.0 762.0 737.8 761.0 738.8 760.0 739.1 755.0 737.8 753.0 738.1 752.0 738.8 750.1 742.0 746.8 746.0 745.0 752.6 744.0 755.0 743.0 755.2 742.0 754.4 739.0 749.1 738.0 748.3 737.0 748.6 736.0 750.3 732.1 765.0 732.0 769.5 734.0 775.6 735.0 777.5 737.1 780.0 738.2 782.0 738.1 787.0 738.8 790.0 742.0 794.1 743.4 797.0 745.7 809.0 745.8 814.0 745.5 817.0 743.5 824.0 742.0 826.5 741.0 827.3 740.0 827.4 739.2 827.0 737.0 825.1 736.0 824.8 735.0 825.1 730.0 829.9 729.0 830.2 726.0 830.1 724.0 831.5 722.4 834.0 720.0 840.9 717.7 844.0 717.2 845.0 717.3 850.0M631.5 442.0 634.0 441.5 636.0 441.8 637.4 443.0 637.6 444.0 636.7 446.0 631.0 451.5 630.0 452.3 628.0 452.8 623.0 452.4 621.0 451.3 620.8 449.0 621.7 447.0 623.0 445.5 631.5 442.0M582.2 508.0 585.0 507.6 587.0 507.9 589.0 509.0 593.0 512.9 594.0 514.1 594.8 516.0 595.7 522.0 594.9 527.0 594.8 531.0 593.0 536.4 587.0 541.6 584.0 542.8 582.0 542.6 578.0 541.7 574.0 541.3 570.0 539.8 568.0 538.6 565.0 535.7 563.0 532.0 562.3 530.0 561.6 525.0 561.9 522.0 563.7 517.0 565.0 514.9 567.0 513.0 571.0 510.4 582.2 508.0M725.0 765.1 724.7 766.0 725.0 767.7 725.7 766.0 725.0 765.1M445.4 850.0 445.0 848.2 444.0 846.1 443.0 845.2 441.0 846.5 440.8 846.0 442.2 838.0 442.3 834.0 450.0 822.0 455.0 818.4 460.0 811.9 466.0 807.3 468.0 806.8 471.0 807.1 472.0 806.8 472.8 806.0 473.4 805.0 473.5 804.0 472.6 800.0 473.0 798.0 474.0 795.9 475.0 795.4 476.1 797.0 476.4 800.0 476.0 805.0 476.5 807.0 482.0 817.6 484.0 819.1 485.0 819.0 486.1 818.0 487.4 815.0 488.0 812.0 488.9 802.0 490.0 799.0 491.0 797.3 493.0 795.2 496.0 793.6 498.0 792.9 501.0 792.9 502.0 792.2 503.4 790.0 505.0 785.8 506.0 784.5 507.0 784.6 510.0 786.7 511.0 786.8 512.0 786.1 512.8 785.0 513.8 782.0 514.5 776.0 515.1 773.0 521.4 760.0 523.0 754.8 524.0 753.0 526.0 751.5 534.0 748.1 539.0 747.7 543.0 746.1 545.0 744.8 546.0 743.4 546.8 741.0 546.9 738.0 546.6 735.0 544.4 724.0 544.4 721.0 545.0 718.0 546.0 715.6 548.0 712.8 550.0 711.6 554.0 710.2 555.3 709.0 555.9 707.0 555.6 703.0 556.2 701.0 560.0 697.9 566.0 689.1 568.0 685.5 574.1 672.0 575.0 669.0 575.4 666.0 575.0 662.9 574.1 660.0 575.1 658.0 575.1 657.0 576.2 654.0 577.0 650.1 579.2 646.0 583.5 640.0 585.0 637.0 585.4 635.0 585.1 631.0 585.7 629.0 592.0 624.0 594.0 621.0 594.6 616.0 597.2 606.0 597.2 601.0 597.7 599.0 600.7 592.0 605.1 586.0 605.4 585.0 602.0 582.3 601.0 581.0 600.7 580.0 601.0 579.0 601.8 578.0 605.0 576.4 606.0 576.2 607.0 576.7 608.8 579.0 609.5 582.0 618.0 587.3 620.0 587.4 621.0 586.8 626.0 585.4 631.0 585.8 640.0 588.7 646.0 592.5 654.0 595.7 663.0 595.8 666.7 595.0 678.0 589.2 684.0 584.9 691.0 583.0 696.6 580.0 700.0 579.0 702.0 579.1 709.0 580.7 714.0 580.5 716.0 580.9 723.2 586.0 726.0 587.3 739.0 586.1 744.0 584.4 747.0 582.8 749.0 581.4 753.0 577.0 755.0 575.3 762.0 571.1 764.0 570.6 772.0 571.4 776.5 573.0 778.5 574.0 782.0 576.4 790.3 581.0 792.0 581.6 801.0 581.7 806.0 581.0 809.0 581.4 814.4 584.0 815.3 585.0 815.5 586.0 813.5 591.0 812.0 596.3 810.6 599.0 810.9 601.0 810.1 603.0 806.1 609.0 803.0 615.4 802.1 618.0 801.5 626.0 801.7 628.0 802.8 631.0 802.4 632.0 800.6 635.0 798.6 641.0 793.0 645.8 791.7 648.0 791.4 650.0 791.6 655.0 788.0 662.3 786.2 669.0 786.7 677.0 786.0 685.3 785.0 686.7 781.0 688.7 779.6 690.0 776.0 698.5 773.0 703.7 772.0 704.9 771.0 705.5 770.0 705.5 766.0 704.7 763.0 706.0 760.0 706.4 758.0 707.6 756.0 710.0 755.4 712.0 755.7 713.0 756.6 714.0 758.0 714.8 761.0 714.5 762.0 715.1 762.3 716.0 762.6 718.0 762.1 723.0 762.5 729.0 762.0 731.7 761.0 733.2 760.0 733.5 759.0 733.2 755.0 729.0 754.0 728.7 753.0 728.9 749.0 731.2 747.0 733.3 745.1 739.0 743.0 742.3 742.0 742.9 741.0 742.9 737.0 740.3 736.0 740.7 735.4 742.0 732.0 758.0 729.5 765.0 729.5 767.0 730.4 772.0 732.8 780.0 734.5 784.0 734.9 793.0 735.3 795.0 736.0 796.6 737.0 797.6 740.0 798.3 741.0 798.9 742.0 800.6 743.6 808.0 743.3 815.0 742.0 818.6 741.0 819.7 740.0 819.6 738.0 817.4 737.0 817.2 735.0 819.3 731.7 824.0 730.0 825.8 726.0 827.0 723.0 829.7 715.5 842.0 714.8 845.0 714.8 850.0M574.4 513.0 584.0 512.1 589.0 513.7 590.0 514.4 591.2 516.0 591.8 518.0 592.2 522.0 591.3 530.0 589.0 535.0 587.0 537.0 585.0 538.2 583.0 538.5 579.0 537.4 574.0 537.5 570.0 536.6 567.0 534.2 565.0 531.0 564.3 528.0 564.0 525.0 564.3 523.0 565.5 520.0 567.2 517.0 569.1 515.0 572.0 513.4 574.4 513.0M515.0 799.0 514.0 800.0 513.6 801.0 512.6 806.0 513.2 809.0 514.0 810.1 515.0 810.4 516.0 810.0 517.0 808.8 518.0 806.6 518.4 804.0 517.8 801.0 516.0 799.1 515.0 799.0M447.6 850.0 446.0 841.0 446.4 834.0 447.9 830.0 451.8 824.0 455.0 821.6 458.0 818.7 461.9 816.0 465.0 812.4 467.0 811.2 468.0 811.1 470.2 812.0 473.0 814.9 476.0 816.1 480.0 821.6 481.4 826.0 482.0 826.7 483.0 827.0 484.0 826.4 486.0 823.1 488.3 818.0 489.2 814.0 490.6 804.0 491.0 802.5 492.0 800.9 493.0 800.5 494.0 801.0 495.9 807.0 497.0 808.0 498.0 808.0 502.2 804.0 504.5 801.0 505.7 798.0 506.0 793.8 507.0 792.0 508.0 792.3 508.2 793.0 508.1 798.0 509.0 800.3 510.3 799.0 510.4 798.0 511.6 797.0 511.5 796.0 512.6 795.0 512.5 794.0 513.5 793.0 513.3 792.0 513.8 791.0 513.2 790.0 513.4 789.0 515.3 784.0 518.5 770.0 521.4 763.0 525.3 756.0 528.0 753.7 533.0 751.2 535.0 750.8 539.0 751.9 541.0 751.9 544.0 750.7 546.0 749.0 546.7 748.0 548.5 744.0 549.1 741.0 548.5 736.0 546.3 728.0 545.7 724.0 545.6 721.0 546.2 718.0 547.4 716.0 549.0 714.5 551.0 713.7 556.0 712.7 557.0 711.9 558.0 710.4 559.3 703.0 562.4 699.0 568.5 688.0 572.0 681.0 576.4 671.0 577.4 667.0 577.0 659.0 577.2 656.0 579.4 653.0 583.0 649.0 583.1 648.0 585.0 646.0 587.4 641.0 589.9 637.0 590.6 635.0 591.4 630.0 596.5 622.0 600.0 611.3 606.4 604.0 614.0 598.6 616.9 595.0 617.1 594.0 618.3 593.0 618.7 592.0 620.0 591.3 628.0 590.2 634.0 590.3 638.0 591.5 645.0 595.6 649.0 596.6 653.0 598.3 655.0 598.6 665.0 598.3 667.0 597.9 669.0 597.0 673.8 594.0 680.0 590.9 685.0 587.6 692.0 585.2 697.0 582.5 699.0 582.1 701.0 582.4 724.0 590.8 739.0 591.5 741.0 591.1 743.0 589.8 756.0 579.2 760.0 577.6 763.0 575.8 765.0 575.5 774.0 576.4 776.0 576.9 784.0 582.2 790.0 584.2 793.0 584.8 799.0 584.9 803.0 586.0 807.0 586.5 808.0 587.9 808.1 590.0 807.0 592.2 801.4 596.0 802.0 596.1 803.0 597.5 804.4 598.0 804.4 599.0 801.9 603.0 800.8 609.0 799.7 612.0 797.5 621.0 797.0 624.0 797.2 632.0 795.7 638.0 794.8 640.0 791.0 644.4 789.0 648.0 788.0 653.5 785.2 660.0 783.6 665.0 781.5 669.0 781.1 671.0 781.3 677.0 780.9 678.0 778.0 681.9 776.0 685.5 773.5 689.0 772.6 693.0 771.4 696.0 770.6 697.0 768.6 698.0 764.6 699.0 760.0 699.7 756.0 702.9 753.0 704.6 752.0 705.7 748.4 713.0 748.2 715.0 748.7 720.0 746.0 725.7 743.4 736.0 743.0 737.1 742.0 738.4 741.0 738.5 739.2 737.0 738.1 735.0 737.0 731.6 736.0 730.2 735.0 730.1 734.0 730.7 732.6 733.0 732.7 738.0 732.0 746.0 731.0 753.5 730.0 757.7 729.0 759.6 728.0 760.2 725.0 759.6 724.0 760.0 723.0 761.2 722.2 763.0 721.6 767.0 722.7 773.0 723.9 775.0 725.0 775.5 728.0 774.8 729.0 775.6 729.6 777.0 732.0 785.0 733.1 797.0 734.2 800.0 736.3 804.0 736.7 806.0 734.8 810.0 733.0 816.0 730.0 820.7 728.8 822.0 725.0 824.8 720.0 829.8 717.0 832.0 715.0 834.7 714.0 837.8 713.5 841.0 713.1 850.0M486.0 850.0 485.6 847.0 485.0 845.5 484.0 844.5 483.0 844.4 481.7 846.0 480.6 850.0M572.5 516.0 576.0 515.3 580.0 515.3 585.6 517.0 587.1 518.0 587.7 520.0 587.6 523.0 586.0 531.0 584.9 533.0 583.0 533.7 576.0 534.9 574.0 534.9 571.0 534.1 568.6 532.0 566.6 528.0 566.3 526.0 566.5 524.0 567.7 521.0 569.0 518.7 570.7 517.0 572.5 516.0M569.0 723.5 568.9 725.0 570.0 725.5 570.3 725.0 570.2 724.0 570.0 723.6 569.0 723.5M557.0 737.4 555.7 739.0 555.8 743.0 556.1 744.0 557.0 744.9 558.0 744.9 559.0 742.9 559.1 739.0 558.0 737.4 557.0 737.4M458.6 850.0 457.7 846.0 457.0 844.4 456.0 843.5 455.0 843.6 454.0 844.3 451.0 847.7 450.0 847.6 449.0 845.9 448.1 841.0 448.1 838.0 448.8 834.0 450.0 831.3 453.4 828.0 457.0 823.1 459.0 821.7 462.0 821.1 463.0 820.6 467.0 816.1 468.0 816.1 469.0 817.1 472.0 822.6 476.0 827.5 477.0 830.0 477.3 834.0 479.3 839.0 479.1 843.0 478.0 846.6 477.0 847.7 475.0 846.7 474.0 846.7 473.0 847.7 472.2 850.0M488.3 850.0 487.8 845.0 484.6 839.0 484.0 836.0 487.0 827.9 492.0 809.9 493.0 809.5 494.0 810.1 497.0 815.1 498.0 815.7 499.0 815.4 500.0 814.4 502.0 810.7 503.0 809.7 505.0 808.7 505.2 808.0 506.3 807.0 506.4 806.0 507.5 805.0 507.5 804.0 508.7 803.0 508.7 802.0 509.9 801.0 510.0 799.9 510.4 800.0 509.3 808.0 510.3 811.0 512.0 813.2 514.0 814.4 516.0 814.1 518.0 811.9 520.4 807.0 520.9 802.0 520.0 798.4 516.3 792.0 516.2 789.0 519.7 771.0 521.7 765.0 523.4 762.0 526.0 758.4 530.0 755.3 533.0 754.0 535.0 754.0 539.0 756.8 541.0 757.6 543.0 757.8 544.3 757.0 548.8 750.0 551.5 745.0 552.1 743.0 552.2 741.0 551.7 739.0 550.0 734.9 547.4 727.0 546.6 722.0 547.0 719.0 548.0 717.3 550.0 716.0 553.0 716.0 557.0 717.3 558.0 717.0 559.7 715.0 560.8 712.0 562.4 704.0 564.7 700.0 567.6 693.0 573.4 682.0 576.5 675.0 578.7 669.0 579.2 667.0 579.5 660.0 580.4 653.0 583.5 649.0 584.5 647.0 591.0 640.0 591.1 639.0 592.7 637.0 594.2 630.0 598.6 622.0 602.3 613.0 610.0 605.3 612.0 604.2 613.3 603.0 613.5 602.0 614.5 601.0 614.7 600.0 615.7 599.0 615.8 598.0 616.9 597.0 617.0 596.4 618.0 595.7 625.0 594.0 632.0 593.8 637.0 594.8 644.4 598.0 649.0 599.1 653.0 600.4 666.0 600.6 670.0 599.3 674.0 596.5 679.0 594.1 685.0 590.4 692.0 587.8 697.0 586.1 699.0 585.8 701.0 586.2 705.0 587.5 710.0 590.3 717.0 591.6 723.0 593.7 729.0 593.8 734.0 595.0 739.0 595.1 741.0 594.6 743.0 593.4 749.0 587.8 756.0 583.2 763.0 579.9 766.0 579.2 774.0 579.9 776.0 580.4 783.0 584.6 794.5 588.0 797.2 589.0 798.7 590.0 799.1 591.0 798.9 592.0 797.8 594.0 797.9 595.0 799.0 595.4 800.8 597.0 797.9 603.0 795.0 611.0 793.8 616.0 793.1 622.0 794.1 629.0 794.0 632.4 791.9 638.0 786.7 647.0 785.0 651.2 782.7 655.0 779.8 664.0 777.4 669.0 774.7 677.0 773.0 680.6 771.7 682.0 769.0 683.3 768.2 684.0 766.5 688.0 765.0 689.7 757.0 694.4 756.0 695.6 754.0 699.1 749.9 703.0 744.8 712.0 744.4 714.0 743.9 722.0 743.0 724.8 742.0 726.6 741.0 727.2 737.0 724.1 736.0 723.8 735.0 724.0 733.0 725.9 730.4 731.0 729.5 735.0 729.7 745.0 728.5 752.0 728.0 753.5 727.0 754.3 725.0 754.8 724.0 755.7 721.6 759.0 720.0 763.0 719.6 767.0 721.3 775.0 723.0 778.7 724.0 779.8 725.0 780.3 727.0 780.5 728.0 781.3 729.3 784.0 729.9 786.0 731.0 797.0 733.0 804.0 733.0 806.0 731.0 812.0 729.1 816.0 723.2 824.0 721.0 825.8 719.0 826.3 716.0 826.2 715.0 826.6 714.0 827.8 713.1 831.0 712.1 839.0 711.7 850.0M512.1 850.0 511.9 847.0 511.0 845.1 510.0 845.1 509.4 846.0 509.0 847.1 508.8 850.0M573.6 518.0 577.0 517.6 579.0 518.0 581.8 520.0 583.0 521.4 583.7 523.0 583.4 526.0 581.5 529.0 579.0 531.1 576.0 532.3 573.2 532.0 571.4 531.0 569.7 529.0 568.8 527.0 569.0 524.0 570.1 521.0 571.7 519.0 573.6 518.0M549.5 718.0 551.0 717.8 552.0 718.0 553.5 719.0 555.4 722.0 556.3 725.0 556.4 728.0 555.8 730.0 554.8 732.0 554.0 733.0 553.0 733.5 552.0 733.1 550.0 730.2 549.0 727.7 548.1 724.0 547.8 720.0 548.3 719.0 549.5 718.0M461.9 850.0 460.6 842.0 458.2 836.0 458.2 832.0 459.0 828.9 461.0 828.0 465.0 823.4 467.0 822.3 468.0 822.6 469.0 823.5 470.5 826.0 471.5 829.0 472.2 835.0 472.2 838.0 470.6 843.0 469.2 850.0M495.0 850.0 494.3 847.0 493.4 845.0 489.0 840.2 487.4 837.0 487.5 835.0 491.0 821.1 492.0 818.5 493.0 817.5 494.0 818.2 496.3 821.0 498.0 821.9 501.0 820.6 505.0 816.8 507.0 815.9 509.0 815.9 514.0 817.6 516.0 817.2 518.0 815.6 522.7 809.0 523.4 807.0 523.3 801.0 519.6 790.0 519.1 785.0 521.1 770.0 523.0 765.0 525.0 762.0 527.0 759.8 530.0 757.7 532.0 756.9 534.0 757.0 535.0 757.6 544.0 765.9 546.0 766.9 547.0 766.8 548.0 766.1 549.0 763.9 549.4 760.0 549.1 756.0 549.5 754.0 551.0 751.2 552.0 750.1 553.0 749.7 554.2 750.0 555.0 750.8 555.5 752.0 556.6 760.0 558.0 763.2 560.0 765.3 563.0 767.1 564.0 767.4 564.8 767.0 565.4 766.0 565.7 763.0 564.0 758.3 563.6 755.0 562.6 751.0 562.7 748.0 564.3 743.0 561.8 732.0 562.0 729.2 563.0 728.2 564.0 728.4 564.6 729.0 565.3 731.0 565.8 736.0 567.0 737.5 568.0 737.5 570.1 736.0 575.0 730.1 575.9 728.0 576.3 725.0 576.1 723.0 575.3 720.0 574.3 718.0 573.4 717.0 571.0 716.1 567.0 716.0 565.8 715.0 565.0 712.2 564.9 710.0 565.9 704.0 569.4 694.0 575.1 683.0 578.0 676.0 580.8 667.0 582.3 654.0 583.5 650.0 584.9 647.0 591.3 640.0 591.6 639.0 595.0 635.0 596.8 629.0 602.1 619.0 604.4 614.0 617.7 600.0 620.0 598.4 624.0 597.1 627.0 596.4 630.0 596.3 633.0 596.8 637.0 598.4 645.0 600.5 653.0 602.3 662.0 603.0 666.0 602.8 671.0 601.5 675.0 598.8 680.0 596.6 685.0 593.2 689.0 591.9 693.0 590.1 696.0 589.6 699.0 589.7 702.0 590.4 708.0 593.2 715.0 593.9 722.2 596.0 728.0 596.4 733.0 597.4 739.0 597.5 741.0 597.0 743.0 595.9 750.0 589.7 754.0 587.1 764.0 582.9 767.0 582.4 775.0 583.0 782.0 586.4 791.0 589.7 793.0 591.0 793.5 592.0 793.5 593.0 795.0 593.5 796.0 594.5 797.0 594.7 798.0 596.0 796.0 599.3 789.5 613.0 786.0 616.0 784.7 618.0 784.5 620.0 785.0 622.1 786.5 625.0 789.2 629.0 790.0 631.0 789.5 634.0 785.8 643.0 783.0 647.5 779.0 651.7 777.0 652.4 772.0 652.0 770.8 653.0 770.1 655.0 769.1 660.0 770.1 667.0 769.8 672.0 768.9 674.0 766.0 676.9 765.4 678.0 763.0 684.8 761.5 686.0 756.0 687.7 754.0 689.0 753.0 691.0 752.2 695.0 751.2 697.0 748.0 701.3 741.0 712.2 740.0 713.6 739.0 714.2 736.0 714.7 734.0 715.6 733.0 716.6 732.0 718.8 731.2 723.0 727.9 734.0 727.5 738.0 727.5 744.0 727.2 746.0 726.0 748.1 723.0 751.0 722.0 752.5 718.7 760.0 717.6 766.0 717.8 769.0 719.7 777.0 723.0 785.5 724.0 787.0 726.0 787.3 727.0 788.4 728.0 792.6 729.5 803.0 729.5 806.0 727.0 814.0 722.5 822.0 721.0 823.3 720.0 823.6 716.0 822.7 715.0 822.9 713.0 824.6 712.3 826.0 711.5 830.0 710.7 839.0 710.3 850.0M514.9 850.0 514.5 846.0 513.0 839.5 512.0 837.7 511.0 836.8 510.0 836.8 509.0 837.6 508.4 839.0 506.6 846.0 505.9 850.0M574.6 520.0 576.0 519.8 578.0 520.4 579.7 522.0 580.4 524.0 580.0 526.0 579.4 527.0 578.0 528.3 576.0 529.2 574.0 528.9 573.0 528.4 572.0 527.3 571.5 526.0 571.4 524.0 572.0 522.0 573.0 520.8 574.6 520.0M549.5 720.0 550.0 719.9 551.0 720.4 552.0 721.8 552.3 724.0 552.0 725.6 551.0 725.4 550.0 723.3 549.4 721.0 549.5 720.0M591.0 754.5 590.3 756.0 590.4 758.0 591.0 760.0 592.0 760.1 592.0 756.2 591.0 754.5M619.0 757.0 615.0 757.7 614.0 758.5 613.0 760.0 612.5 762.0 612.8 767.0 612.2 771.0 613.0 774.3 615.4 767.0 617.0 765.0 618.0 764.7 619.0 765.1 624.0 770.0 625.0 769.9 626.3 764.0 625.6 761.0 623.0 757.1 622.0 756.2 621.0 756.1 619.0 757.0M707.0 768.0 706.4 769.0 706.4 771.0 707.0 772.2 708.0 772.6 709.0 771.3 709.0 769.3 708.0 767.9 707.0 768.0M640.0 770.8 639.0 772.0 638.5 774.0 639.0 776.5 640.0 776.8 641.0 776.0 641.6 775.0 642.1 773.0 641.4 771.0 641.0 770.7 640.0 770.8M597.0 785.7 596.7 787.0 597.0 788.7 597.3 787.0 597.0 785.7M559.0 804.8 555.0 809.6 552.4 811.0 551.7 812.0 552.0 812.5 555.0 813.0 558.0 814.8 559.0 814.8 559.8 814.0 560.4 812.0 560.6 806.0 560.5 805.0 560.0 804.5 559.0 804.8M466.4 829.0 467.0 828.1 468.1 829.0 468.2 837.0 466.8 841.0 466.9 845.0 466.0 847.3 465.0 847.0 464.4 845.0 463.9 839.0 466.4 829.0M498.2 850.0 498.0 846.0 497.2 843.0 495.5 840.0 492.0 836.1 491.6 835.0 491.8 829.0 493.0 825.6 494.0 825.1 497.0 827.5 498.0 827.9 501.0 827.8 502.5 827.0 504.0 824.7 510.0 821.3 511.0 821.3 514.0 822.7 516.0 822.0 518.0 820.2 521.0 815.9 523.0 814.5 524.0 814.6 525.0 815.5 528.8 823.0 528.6 825.0 528.0 825.9 527.5 828.0 527.0 834.0 528.6 839.0 527.8 842.0 528.0 844.5 529.0 845.9 530.0 845.0 530.2 843.0 529.6 839.0 531.3 835.0 531.7 833.0 529.3 824.0 533.0 815.1 536.1 812.0 536.8 809.0 536.2 807.0 535.3 806.0 531.4 804.0 525.0 797.9 523.0 794.2 521.4 789.0 520.8 784.0 521.8 772.0 523.0 767.8 525.1 764.0 527.0 761.9 529.0 760.4 531.0 759.5 533.0 759.5 535.0 761.0 544.0 770.5 546.0 771.5 547.0 771.4 549.0 770.2 550.0 768.9 551.2 766.0 552.0 762.2 553.0 760.6 554.0 761.6 556.2 766.0 557.7 768.0 564.0 772.6 565.0 772.8 566.3 772.0 567.7 770.0 569.4 765.0 569.5 762.0 568.3 757.0 568.0 751.0 568.2 750.0 570.5 746.0 571.0 742.0 571.9 740.0 573.0 738.9 576.0 737.0 577.0 736.0 579.0 732.9 580.0 731.9 581.0 731.5 584.0 731.7 586.0 732.4 590.0 736.5 591.0 736.4 591.9 735.0 592.5 732.0 592.5 727.0 593.0 723.0 592.8 721.0 592.0 719.0 590.0 716.6 588.0 715.3 585.0 714.9 580.0 715.5 578.0 714.6 576.0 712.6 573.0 710.7 572.0 709.6 570.3 706.0 570.0 703.0 571.8 695.0 577.2 684.0 579.1 679.0 580.5 673.0 582.4 667.0 584.2 654.0 587.1 645.0 591.6 640.0 592.6 638.0 597.1 633.0 598.5 629.0 605.9 615.0 610.1 610.0 616.3 605.0 620.6 601.0 627.0 598.7 631.0 598.5 638.0 601.2 653.0 604.0 662.0 605.1 666.0 605.0 671.0 604.0 676.0 601.2 681.0 599.2 686.0 595.7 693.0 593.0 695.0 592.6 700.0 593.7 707.0 596.1 716.0 596.6 723.0 598.2 731.0 599.3 740.0 599.7 743.0 598.3 750.0 592.1 754.0 589.5 765.0 585.5 768.0 585.2 775.0 585.5 776.0 585.8 781.0 588.2 786.0 589.9 791.0 592.6 792.0 592.8 793.0 593.8 794.2 594.0 794.4 595.0 791.8 601.0 787.3 607.0 784.9 612.0 780.8 617.0 779.3 620.0 778.0 624.1 774.0 627.5 768.0 629.2 767.0 630.0 766.0 632.0 766.2 634.0 767.1 636.0 769.0 638.8 770.0 639.2 771.0 638.9 775.0 635.1 776.0 634.5 777.0 634.5 778.0 635.0 779.9 637.0 781.2 639.0 781.4 640.0 780.9 642.0 779.5 644.0 778.0 644.9 777.0 645.1 776.0 645.0 773.0 643.6 771.0 643.5 765.0 647.2 762.8 649.0 762.3 650.0 762.1 652.0 764.3 661.0 765.2 666.0 765.2 668.0 764.8 670.0 764.0 671.4 760.1 676.0 757.3 681.0 756.0 682.0 752.0 683.5 750.2 685.0 749.7 687.0 749.7 694.0 748.8 696.0 744.0 703.1 739.0 708.0 735.0 710.0 733.0 711.6 731.0 714.5 730.0 717.0 728.8 725.0 726.2 735.0 725.0 744.0 724.0 745.8 721.0 748.7 720.0 750.2 717.0 759.3 715.5 767.0 715.5 770.0 717.9 785.0 717.6 792.0 716.6 798.0 716.7 801.0 718.0 803.3 720.0 804.9 721.0 805.0 724.0 804.4 724.6 805.0 725.1 807.0 725.0 811.0 724.2 814.0 723.0 816.6 722.0 818.3 721.0 819.2 720.0 819.3 719.0 818.4 716.0 813.2 713.0 818.5 711.0 824.5 710.4 828.0 709.3 841.0 709.0 850.0M517.1 850.0 515.6 835.0 513.0 830.6 512.0 829.5 511.0 829.5 506.0 831.8 505.0 832.8 503.7 835.0 503.3 838.0 504.4 843.0 503.1 850.0M695.2 850.0 694.0 847.3 693.0 848.1 692.3 850.0M574.0 523.0 575.0 522.2 576.0 522.4 576.8 523.0 577.0 524.0 576.6 525.0 576.0 525.5 575.0 525.6 574.2 525.0 573.8 524.0 574.0 523.0M529.8 762.0 532.0 761.8 534.0 762.9 543.0 773.4 545.0 775.3 546.0 775.5 548.0 774.8 553.0 770.2 554.0 770.1 559.7 773.0 564.0 776.7 565.0 777.0 566.0 776.8 568.0 775.6 569.0 775.4 570.0 776.3 570.7 778.0 572.7 787.0 572.8 789.0 572.0 790.8 571.0 791.3 568.0 791.5 566.0 792.4 563.0 796.1 559.0 798.5 555.0 802.8 550.0 805.9 549.0 806.2 548.0 806.0 545.0 803.2 544.0 802.7 543.0 802.9 541.0 804.4 540.0 804.6 539.0 803.9 532.0 797.2 530.0 796.2 527.0 795.4 526.0 794.6 524.0 791.5 522.8 788.0 522.4 785.0 522.4 779.0 522.6 774.0 523.2 771.0 524.3 768.0 526.0 765.1 528.0 763.0 529.8 762.0M658.0 813.9 656.8 815.0 656.1 818.0 656.5 821.0 657.0 821.7 658.0 822.2 659.0 821.9 659.7 821.0 660.5 818.0 660.0 815.1 659.0 814.0 658.0 813.9M519.2 850.0 519.3 847.0 518.8 842.0 519.0 840.0 520.0 837.6 521.0 836.6 522.0 836.4 523.0 837.1 524.0 839.2 525.5 850.0M534.2 850.0 534.0 847.0 535.1 840.0 538.0 834.1 538.4 832.0 538.1 827.0 536.8 823.0 536.7 821.0 538.0 818.0 540.0 815.7 541.0 815.2 542.0 815.4 546.4 819.0 548.0 821.0 549.0 821.1 551.5 819.0 554.0 818.0 556.0 818.3 559.0 819.8 560.0 819.2 561.0 817.2 562.0 814.0 563.0 809.0 563.8 807.0 565.0 805.1 567.0 803.0 571.0 800.6 573.0 800.0 576.8 801.0 580.0 802.7 582.0 802.9 583.0 802.1 584.3 800.0 584.5 798.0 583.4 792.0 583.3 785.0 581.7 780.0 580.0 771.7 579.0 768.7 576.0 765.0 575.3 763.0 572.6 758.0 572.1 756.0 572.0 753.0 572.3 751.0 572.9 750.0 576.0 747.9 576.8 747.0 578.8 741.0 581.0 737.6 582.9 736.0 584.0 735.8 585.0 736.1 586.6 738.0 587.4 740.0 588.6 745.0 588.5 749.0 587.2 755.0 587.2 760.0 586.6 764.0 586.8 766.0 588.3 768.0 592.0 769.9 593.0 770.7 594.0 773.0 594.6 781.0 593.7 788.0 594.0 793.0 593.7 798.0 594.4 800.0 595.3 801.0 598.0 802.4 599.0 801.9 600.0 799.1 599.8 792.0 600.8 778.0 602.0 772.2 606.0 776.0 606.6 777.0 607.0 780.1 607.7 782.0 611.0 786.2 612.0 786.3 613.0 785.5 614.7 783.0 615.6 780.0 616.6 773.0 617.0 771.8 618.0 770.5 619.0 770.5 620.0 771.4 624.3 777.0 624.8 778.0 625.3 781.0 626.0 782.6 627.0 782.5 627.9 778.0 629.3 776.0 631.0 775.0 632.0 774.9 633.0 775.2 633.8 776.0 635.8 780.0 636.6 783.0 635.8 799.0 637.0 805.6 638.0 807.7 640.4 803.0 641.4 800.0 641.5 787.0 643.0 782.4 644.0 781.6 645.0 782.3 650.0 791.0 651.0 790.4 652.0 786.0 652.1 783.0 649.5 768.0 646.8 759.0 646.3 754.0 646.0 753.3 645.0 752.7 644.0 753.1 643.0 754.1 640.9 757.0 639.1 762.0 638.0 763.7 637.0 764.2 636.0 764.0 635.2 763.0 632.5 755.0 630.2 745.0 630.3 743.0 631.6 738.0 631.6 735.0 630.0 731.9 629.0 730.6 628.0 729.9 627.0 730.0 626.0 730.7 625.0 732.0 624.2 734.0 623.5 738.0 623.4 743.0 622.5 745.0 619.0 749.3 618.0 749.9 617.0 749.7 615.0 748.7 614.0 749.3 610.0 755.0 609.0 755.2 608.0 754.3 607.1 752.0 607.3 750.0 608.8 745.0 608.6 743.0 607.7 741.0 606.0 738.6 605.0 738.4 604.4 739.0 603.7 741.0 603.7 745.0 606.2 752.0 604.1 758.0 603.4 762.0 602.0 765.1 601.0 766.9 600.0 767.0 599.0 766.1 597.0 763.2 595.6 760.0 593.4 748.0 593.7 738.0 595.6 728.0 597.0 723.0 597.0 721.0 595.9 716.0 594.9 714.0 592.5 712.0 591.0 711.5 587.0 710.9 582.0 709.4 578.0 706.4 576.4 704.0 574.9 698.0 575.2 695.0 579.0 687.0 580.7 682.0 582.3 673.0 583.9 667.0 585.5 656.0 587.0 650.1 589.5 643.0 590.0 642.0 592.6 639.0 592.9 638.0 599.3 631.0 602.0 625.0 607.0 616.0 609.2 613.0 613.0 609.2 617.8 606.0 622.0 602.6 626.0 601.1 629.0 600.4 631.0 600.6 637.0 602.9 642.0 604.0 649.0 604.8 658.0 606.7 664.0 607.2 668.0 606.9 671.0 606.3 677.0 603.5 683.4 601.0 690.8 597.0 694.0 596.3 708.0 599.2 717.0 598.9 724.0 600.5 735.0 601.5 740.0 603.2 742.0 602.0 750.0 594.4 755.0 591.1 761.0 588.8 765.0 588.0 769.0 587.7 775.0 587.9 785.0 592.0 786.6 593.0 788.3 595.0 788.6 596.0 788.6 598.0 787.8 600.0 783.6 607.0 781.8 611.0 780.4 613.0 774.0 619.4 768.0 624.4 764.0 627.1 761.6 630.0 761.0 632.0 761.0 635.0 762.6 639.0 762.8 641.0 762.1 642.0 760.0 643.6 759.2 645.0 757.7 652.0 755.3 656.0 755.2 660.0 754.4 663.0 754.2 666.0 753.8 668.0 751.7 672.0 750.2 676.0 749.0 676.8 746.0 678.0 744.8 679.0 744.0 681.0 744.6 686.0 746.5 692.0 746.7 693.0 746.2 695.0 743.3 700.0 742.0 701.7 740.0 703.3 736.0 705.6 734.0 707.3 731.0 710.5 729.0 713.8 728.0 717.0 726.7 728.0 723.1 741.0 719.0 746.4 718.1 749.0 717.1 754.0 714.0 763.5 713.0 765.0 712.0 765.4 709.0 763.7 708.0 763.8 707.1 765.0 705.7 766.0 704.6 768.0 704.2 772.0 706.0 777.3 707.0 778.3 708.0 778.6 712.0 776.7 713.0 777.6 713.5 780.0 714.1 789.0 713.7 805.0 712.0 810.7 710.3 819.0 707.8 841.0 707.2 850.0M557.0 850.0 557.2 845.0 556.9 842.0 556.0 838.8 555.0 837.0 554.0 836.4 553.0 836.7 552.0 837.8 551.2 840.0 550.9 850.0M573.3 850.0 573.2 846.0 572.7 842.0 572.0 840.1 571.0 839.6 570.0 840.4 568.8 843.0 568.2 846.0 568.2 850.0M702.0 850.0 702.5 845.0 701.7 842.0 701.0 841.0 700.0 840.5 695.0 839.7 691.5 838.0 690.9 837.0 691.2 833.0 690.6 830.0 684.8 820.0 683.0 814.1 682.0 812.8 681.0 812.6 680.0 813.3 679.4 815.0 679.0 819.1 679.1 822.0 680.9 831.0 683.3 837.0 684.0 838.1 687.0 840.0 687.5 841.0 687.5 843.0 686.1 850.0M599.9 728.0 601.0 728.1 601.6 729.0 601.0 741.0 601.4 744.0 603.0 751.0 602.7 754.0 602.0 756.9 601.0 759.4 600.0 760.4 599.0 760.2 598.0 759.3 597.0 757.3 595.9 752.0 595.6 748.0 596.4 736.0 598.0 730.2 599.0 728.5 599.9 728.0M529.7 764.0 531.0 763.8 532.0 764.0 535.0 766.4 539.8 773.0 544.0 780.4 545.0 781.2 546.0 780.9 552.0 776.1 554.0 775.1 556.0 775.1 558.0 775.8 560.0 777.2 561.3 779.0 562.9 786.0 562.6 789.0 561.9 791.0 560.0 793.5 556.0 796.5 550.0 801.8 549.0 802.1 548.0 801.8 547.0 801.0 545.0 797.4 544.0 796.4 543.0 796.7 541.0 798.8 540.0 799.2 539.0 799.0 532.0 791.7 531.0 791.3 527.0 790.8 526.0 790.1 525.0 788.7 524.0 784.3 523.6 777.0 523.9 773.0 524.9 770.0 526.4 767.0 528.0 765.0 529.7 764.0M584.7 773.0 585.0 772.6 586.0 772.5 590.0 773.8 591.1 775.0 592.0 777.9 592.4 782.0 591.5 787.0 591.4 793.0 591.0 794.3 590.0 795.7 589.0 796.0 588.0 795.4 587.0 793.0 586.8 790.0 587.5 785.0 586.6 782.0 584.4 778.0 584.1 775.0 584.7 773.0M539.1 850.0 538.9 845.0 539.5 840.0 542.0 830.0 543.0 829.1 544.0 829.2 546.0 830.4 547.6 832.0 548.6 834.0 549.2 850.0M558.6 850.0 559.1 843.0 558.5 835.0 558.8 830.0 559.4 828.0 561.5 824.0 564.0 812.6 565.6 809.0 568.0 806.6 570.0 805.5 571.0 805.5 572.0 806.4 573.2 810.0 575.0 818.1 576.0 819.9 577.0 819.3 578.9 815.0 580.0 813.3 581.0 812.6 582.0 812.4 586.0 813.9 587.0 814.0 588.3 813.0 590.7 808.0 593.0 806.4 595.0 806.2 596.0 806.5 599.0 808.6 600.0 808.7 601.0 807.9 602.1 805.0 602.8 797.0 602.0 792.0 602.0 789.0 602.6 786.0 603.0 785.3 603.5 785.0 604.0 784.8 605.0 785.6 606.0 788.2 606.8 792.0 606.8 798.0 608.1 802.0 609.0 803.7 610.0 804.5 613.0 804.6 615.0 804.2 616.0 803.0 616.9 796.0 615.6 790.0 615.5 788.0 618.0 780.4 619.0 779.2 620.0 780.1 626.0 790.3 627.0 790.5 631.0 784.1 632.0 783.0 633.0 783.1 633.9 785.0 634.4 791.0 634.1 799.0 634.6 806.0 634.7 813.0 635.7 818.0 638.6 826.0 639.2 830.0 640.0 831.7 641.0 832.0 642.0 831.0 643.0 826.0 644.6 822.0 644.5 820.0 643.2 816.0 642.2 807.0 643.0 804.5 645.0 802.1 647.0 800.7 648.0 800.9 651.9 803.0 653.5 805.0 654.4 807.0 654.7 809.0 653.1 816.0 653.4 821.0 655.0 824.1 656.2 825.0 658.0 825.7 660.0 825.3 661.7 823.0 663.2 818.0 663.7 814.0 663.4 811.0 662.0 809.5 658.6 807.0 658.1 806.0 658.6 804.0 661.0 801.7 662.0 801.2 663.0 801.2 664.0 802.4 666.0 806.1 667.0 806.2 668.3 803.0 668.1 800.0 667.0 798.6 664.8 797.0 663.9 794.0 664.3 790.0 666.1 786.0 667.4 780.0 667.3 777.0 666.7 775.0 666.0 773.8 665.0 773.0 664.0 773.0 662.0 774.0 660.9 775.0 660.3 777.0 660.0 781.1 658.4 786.0 657.6 791.0 657.0 792.5 656.0 792.5 655.3 790.0 655.5 785.0 652.2 772.0 649.0 752.0 647.0 748.1 646.0 747.0 645.0 746.5 643.6 747.0 641.0 750.5 638.0 752.9 637.0 753.0 635.0 751.1 633.3 748.0 632.7 745.0 633.0 743.0 635.3 738.0 635.6 734.0 634.3 730.0 632.6 727.0 631.0 725.6 629.0 725.0 627.0 725.3 625.9 726.0 624.0 728.4 623.0 730.5 620.0 741.1 619.0 742.1 618.0 742.2 617.0 741.8 610.0 736.7 607.3 733.0 604.5 728.0 606.3 722.0 605.9 714.0 605.0 711.8 602.0 709.7 595.0 707.6 591.0 704.4 589.0 703.9 585.0 703.9 583.0 703.4 582.0 702.2 580.2 697.0 580.1 695.0 582.3 689.0 583.6 683.0 584.4 672.0 586.7 658.0 588.7 650.0 591.4 643.0 592.9 640.0 596.2 635.0 600.4 631.0 607.6 618.0 610.0 614.5 614.3 610.0 622.0 604.8 625.0 603.4 629.0 602.3 630.0 602.2 637.0 604.7 643.0 606.2 650.0 606.8 658.0 608.9 666.0 609.4 671.0 608.7 679.0 605.6 689.5 603.0 694.0 600.9 696.0 600.4 701.0 601.3 705.0 601.2 709.0 601.9 717.0 601.0 723.0 602.7 733.0 603.5 734.4 604.0 735.7 605.0 738.3 610.0 739.0 611.0 740.0 611.5 741.0 611.2 741.7 610.0 743.4 605.0 745.1 602.0 751.0 596.0 756.0 592.7 760.0 590.9 763.0 590.3 770.0 589.9 775.0 590.2 780.0 592.5 782.3 594.0 783.1 595.0 783.6 597.0 781.7 604.0 778.7 611.0 777.0 613.1 774.0 615.9 769.0 619.1 765.0 622.9 760.3 626.0 758.1 629.0 756.9 635.0 756.4 640.0 754.0 647.6 750.6 652.0 748.3 656.0 745.0 660.0 744.1 663.0 745.3 667.0 745.2 668.0 743.8 670.0 740.0 673.7 738.8 676.0 738.4 679.0 738.7 682.0 739.8 686.0 742.5 692.0 743.0 694.0 742.3 697.0 741.2 699.0 740.0 700.3 735.0 703.2 728.3 711.0 727.0 713.7 726.4 716.0 725.0 729.0 723.0 733.6 720.0 737.8 718.0 741.7 716.1 752.0 714.0 757.9 713.0 759.9 712.0 760.8 711.0 760.8 710.0 760.2 709.8 761.0 708.0 762.1 706.0 762.0 705.0 762.7 704.0 764.1 702.9 767.0 702.6 772.0 704.0 779.7 706.0 782.6 710.0 784.3 710.5 785.0 711.4 787.0 711.9 790.0 711.3 805.0 709.3 814.0 708.0 828.2 707.0 834.7 706.0 838.2 705.0 839.0 704.0 838.1 702.0 835.4 701.0 835.0 698.0 835.6 697.0 835.4 696.0 834.7 695.0 833.1 694.4 831.0 693.0 820.2 692.0 817.0 691.0 817.0 689.0 818.0 688.0 817.9 687.0 816.7 685.4 811.0 684.0 808.4 681.0 806.3 679.0 806.0 678.0 806.8 677.5 808.0 676.4 815.0 676.1 819.0 676.2 822.0 677.7 832.0 677.6 836.0 676.6 842.0 676.8 845.0 677.7 848.0 677.8 850.0M574.5 850.0 574.2 838.0 573.4 835.0 573.0 834.3 572.0 834.1 570.0 835.9 567.5 841.0 566.6 845.0 566.7 850.0M764.4 592.0 769.0 591.7 773.0 592.0 775.0 592.5 777.7 594.0 778.8 595.0 779.8 597.0 779.9 599.0 779.2 603.0 776.5 610.0 774.0 612.8 771.0 615.0 767.0 617.1 762.7 621.0 756.0 624.4 755.0 625.3 753.9 627.0 752.3 633.0 752.8 639.0 752.1 642.0 748.3 648.0 745.1 652.0 739.1 665.0 738.2 668.0 736.2 672.0 735.6 674.0 735.4 682.0 736.5 687.0 739.1 694.0 739.0 696.0 738.0 697.5 734.0 701.1 728.0 707.9 726.1 711.0 724.3 716.0 723.5 721.0 723.3 727.0 722.6 729.0 721.0 730.6 716.8 732.0 715.8 733.0 715.3 734.0 715.0 736.0 715.3 745.0 715.0 750.0 712.9 755.0 712.0 756.0 711.8 757.0 710.7 758.0 710.4 759.0 710.0 759.3 709.0 759.8 707.0 759.0 706.0 759.1 704.2 760.0 702.7 762.0 701.8 764.0 700.6 770.0 702.0 782.4 703.0 786.3 704.0 788.2 705.0 789.0 708.0 790.2 709.0 791.9 709.3 803.0 707.3 813.0 706.9 825.0 706.0 829.5 705.0 830.7 701.0 829.5 698.0 830.0 697.0 829.3 696.2 827.0 695.2 811.0 694.7 809.0 694.0 807.5 693.0 806.3 692.0 806.0 689.0 808.0 688.0 807.5 685.9 804.0 685.5 800.0 685.0 799.6 681.0 800.3 676.1 799.0 675.0 797.7 673.0 797.0 671.0 795.7 668.7 793.0 668.5 790.0 670.6 782.0 671.2 777.0 672.0 775.6 675.0 773.6 676.8 770.0 676.9 768.0 675.8 766.0 674.6 765.0 673.0 764.5 671.0 764.8 668.0 765.9 664.2 766.0 663.0 766.8 661.4 769.0 660.0 770.2 656.0 772.0 655.0 771.3 653.9 768.0 653.4 762.0 651.4 751.0 650.1 748.0 648.0 744.3 646.0 742.4 644.0 741.8 643.0 742.1 641.7 743.0 639.0 747.2 638.0 747.7 637.0 747.6 636.1 747.0 635.6 746.0 635.9 744.0 637.4 742.0 638.3 740.0 638.6 734.0 638.2 732.0 636.0 726.2 634.0 722.7 632.0 721.3 630.0 721.0 627.0 721.6 625.0 722.8 622.6 726.0 620.0 733.1 619.0 734.7 618.0 735.4 617.0 735.2 614.7 733.0 611.7 729.0 611.4 728.0 612.3 724.0 610.8 718.0 611.0 716.6 612.4 713.0 612.4 712.0 611.1 709.0 606.2 705.0 604.0 703.7 596.0 701.7 594.0 700.4 591.0 697.6 587.9 696.0 587.5 695.0 587.1 688.0 587.7 681.0 586.6 675.0 586.5 672.0 588.2 659.0 590.2 651.0 592.4 645.0 594.5 641.0 597.7 636.0 601.5 632.0 604.5 626.0 610.0 617.1 615.5 611.0 623.0 606.1 625.0 605.2 630.0 604.0 643.0 608.1 649.0 608.5 657.0 611.1 666.0 612.0 672.0 611.1 680.0 608.3 686.9 607.0 697.0 604.0 705.0 603.6 709.0 604.2 715.0 603.7 719.0 604.4 722.0 605.7 730.0 605.5 732.1 606.0 734.0 607.4 736.5 612.0 738.1 617.0 739.0 618.5 740.0 619.3 741.0 620.8 742.0 620.1 742.8 618.0 745.4 607.0 746.6 604.0 748.0 602.0 751.0 598.8 757.0 594.3 761.0 592.5 764.4 592.0M598.7 748.0 599.0 747.5 600.1 749.0 600.4 751.0 600.0 753.8 599.0 753.8 598.5 752.0 598.3 750.0 598.7 748.0M684.0 765.0 682.4 767.0 681.6 769.0 683.3 774.0 685.5 778.0 686.6 781.0 687.1 791.0 688.0 792.7 692.0 794.4 693.0 793.8 693.2 792.0 692.0 779.0 692.6 776.0 694.7 770.0 694.8 768.0 694.0 766.8 693.0 766.5 690.0 766.8 686.0 764.6 685.0 764.5 684.0 765.0M530.0 766.0 532.0 766.1 534.0 767.7 537.4 773.0 538.7 776.0 539.8 780.0 540.1 786.0 539.9 788.0 539.0 790.4 538.0 790.4 536.0 786.4 535.0 785.5 534.0 785.5 529.0 786.5 528.0 786.3 526.9 785.0 525.3 779.0 525.1 774.0 525.6 772.0 527.0 769.0 528.5 767.0 530.0 766.0M549.0 783.0 551.0 782.2 552.0 782.3 555.0 783.6 558.0 783.1 559.0 784.7 559.2 786.0 559.0 787.3 558.0 788.9 556.0 790.3 551.0 796.7 550.0 797.5 549.0 797.8 548.0 797.1 547.0 795.2 546.3 793.0 546.1 791.0 546.9 786.0 548.0 784.0 549.0 783.0M647.2 808.0 648.0 807.7 649.0 808.0 650.5 810.0 650.7 811.0 650.5 813.0 650.0 814.2 649.0 815.0 648.0 815.0 647.0 814.3 646.0 812.5 646.0 809.7 647.2 808.0M617.0 835.7 616.2 839.0 617.0 841.7 618.0 842.2 619.0 840.9 619.3 838.0 618.0 836.0 617.0 835.7M541.6 850.0 541.7 842.0 543.0 838.7 544.0 837.5 545.0 837.9 546.3 841.0 547.0 844.0 547.5 850.0M560.6 850.0 561.9 843.0 561.6 836.0 562.2 829.0 563.7 824.0 565.4 815.0 567.0 811.8 569.0 810.3 570.0 810.4 570.7 811.0 571.6 813.0 572.8 825.0 572.2 827.0 569.0 832.4 564.6 843.0 564.2 846.0 564.6 850.0M575.7 850.0 576.2 834.0 575.9 828.0 576.7 826.0 581.0 818.4 582.0 817.8 583.0 818.1 584.0 819.3 585.9 823.0 587.0 823.3 588.0 823.0 590.0 821.0 591.2 819.0 594.0 812.3 595.0 811.5 596.0 811.9 596.8 813.0 599.0 818.3 600.0 818.4 601.0 817.4 601.7 816.0 603.1 811.0 604.0 809.4 605.0 808.5 606.0 808.6 609.0 810.2 614.0 809.6 618.0 810.3 620.9 810.0 623.0 809.1 624.6 808.0 630.0 802.4 631.0 801.9 632.0 803.8 632.3 806.0 631.6 812.0 632.3 818.0 634.9 824.0 635.6 830.0 636.8 833.0 641.0 840.3 642.0 841.6 643.0 842.2 644.0 841.5 644.5 840.0 644.8 835.0 645.7 831.0 647.4 827.0 649.0 824.8 650.0 824.3 651.0 824.7 653.8 827.0 657.0 828.6 659.0 829.5 661.0 829.4 662.0 828.6 663.0 827.0 667.0 818.8 672.0 812.9 673.0 813.5 673.5 822.0 674.9 831.0 674.6 835.0 673.6 841.0 674.1 850.0M764.0 594.0 768.0 593.6 772.0 593.9 774.0 594.5 776.1 596.0 777.0 598.0 777.2 601.0 776.4 605.0 775.0 608.0 773.6 610.0 771.0 612.4 764.6 616.0 761.0 618.6 752.0 621.1 750.0 621.3 749.0 621.0 748.0 620.3 747.3 619.0 747.1 617.0 747.8 610.0 749.6 605.0 751.1 603.0 758.0 596.1 761.0 594.7 764.0 594.0M629.4 606.0 632.0 606.4 642.0 609.8 649.0 610.5 655.0 612.8 666.0 614.7 672.0 613.8 682.0 610.6 688.0 609.9 692.0 608.5 702.0 606.3 705.0 606.2 713.0 607.2 721.0 608.9 727.0 608.0 730.0 608.2 732.0 609.1 734.0 611.6 736.1 619.0 737.0 621.1 739.0 623.7 739.4 625.0 738.9 626.0 739.0 626.6 740.0 628.0 742.0 629.5 746.0 629.8 747.2 631.0 748.2 636.0 747.7 639.0 745.0 646.0 742.4 650.0 740.2 656.0 735.7 665.0 733.0 672.0 732.6 683.0 733.4 688.0 734.6 692.0 734.8 695.0 731.4 700.0 725.4 707.0 723.9 710.0 721.3 714.0 719.0 719.7 717.7 721.0 714.0 722.5 713.0 723.4 711.2 727.0 710.8 730.0 710.8 735.0 713.2 745.0 713.6 751.0 713.3 753.0 712.4 754.0 712.3 755.0 711.3 756.0 711.0 757.1 710.0 757.3 707.0 756.2 705.0 756.6 702.7 758.0 699.0 761.7 696.0 761.2 692.0 761.3 691.0 760.9 688.0 758.5 686.0 757.8 684.0 758.5 680.0 761.7 679.0 762.0 675.0 761.0 673.0 760.9 667.0 762.7 662.0 761.7 660.1 761.0 659.1 760.0 657.9 757.0 656.0 754.6 655.8 753.0 656.2 750.0 656.1 749.0 653.0 744.5 651.0 739.4 646.9 737.0 646.3 736.0 645.6 733.0 644.4 731.0 640.0 728.3 639.0 726.7 637.0 722.0 635.0 718.9 633.0 717.1 631.0 716.2 624.0 715.2 621.0 715.1 620.0 714.7 615.8 706.0 614.4 704.0 613.0 703.0 609.0 701.9 606.0 700.3 600.2 696.0 598.0 693.0 597.6 692.0 597.4 688.0 596.0 686.1 594.0 684.2 592.0 681.4 589.4 676.0 588.7 673.0 588.7 669.0 589.9 660.0 593.0 649.0 597.8 639.0 602.6 633.0 609.0 621.4 613.2 616.0 617.0 612.1 622.0 608.6 625.0 607.0 629.4 606.0M529.3 769.0 531.0 768.3 532.0 768.6 533.0 769.5 534.5 772.0 535.4 775.0 535.1 777.0 534.3 778.0 532.0 779.7 530.0 780.3 529.0 780.1 528.0 779.2 527.0 777.3 526.6 775.0 527.3 772.0 529.3 769.0M697.8 775.0 698.6 776.0 698.9 777.0 698.0 781.5 697.0 781.0 696.3 778.0 696.6 776.0 697.0 775.3 697.8 775.0M678.7 778.0 680.0 777.6 681.0 778.0 682.8 780.0 683.5 782.0 683.0 786.1 682.0 788.3 681.0 789.4 680.0 789.1 679.0 787.5 677.3 783.0 677.4 780.0 678.7 778.0M697.9 795.0 698.0 794.4 699.0 796.1 699.6 800.0 699.6 801.0 699.0 802.6 698.0 801.8 697.5 799.0 697.9 795.0M703.4 802.0 704.0 801.3 705.0 801.1 705.4 803.0 705.0 807.8 704.0 809.0 703.0 808.4 702.5 807.0 702.8 804.0 703.4 802.0M566.6 826.0 567.0 825.5 567.2 826.0 567.1 828.0 566.0 829.9 565.5 829.0 565.5 828.0 566.0 826.5 566.6 826.0M576.9 850.0 576.9 844.0 578.1 834.0 578.0 829.0 578.6 827.0 580.0 824.8 581.0 824.0 582.0 823.9 585.0 827.1 586.0 827.5 587.0 827.2 590.0 825.3 592.0 824.9 594.0 825.7 597.0 828.1 598.0 828.3 599.0 828.0 601.0 825.9 603.1 820.0 605.0 816.9 606.0 815.9 607.0 815.7 609.0 815.9 612.4 814.0 614.0 813.5 616.0 814.3 616.7 815.0 617.0 816.0 616.1 820.0 613.4 828.0 613.2 830.0 613.4 841.0 614.9 850.0M622.0 850.0 625.2 839.0 625.7 836.0 624.1 827.0 625.2 819.0 623.5 815.0 623.8 814.0 626.0 812.9 627.0 813.0 628.4 815.0 630.4 823.0 630.4 825.0 629.5 831.0 629.9 833.0 631.0 833.9 634.0 834.5 635.0 835.2 636.4 837.0 640.1 845.0 640.5 850.0M647.6 850.0 647.0 844.0 647.2 836.0 647.7 833.0 649.0 830.8 650.0 830.2 652.0 830.3 656.0 831.7 661.0 834.3 665.0 834.7 666.2 834.0 667.1 830.0 668.0 828.1 669.0 827.2 670.0 826.8 671.0 827.3 671.5 828.0 672.0 829.0 672.3 831.0 671.2 841.0 671.6 850.0M765.5 596.0 768.0 595.8 771.0 596.2 772.9 597.0 773.9 598.0 774.7 600.0 774.7 602.0 774.0 605.0 773.0 607.0 771.7 609.0 769.7 611.0 765.0 613.6 760.0 615.1 756.0 615.3 754.0 614.7 752.6 613.0 752.1 611.0 752.3 608.0 753.3 606.0 759.0 598.2 761.0 597.1 765.5 596.0M628.9 608.0 630.0 607.8 632.0 608.2 639.0 610.9 648.0 612.7 653.9 615.0 658.0 615.5 664.0 616.8 668.0 617.2 672.0 617.0 680.0 613.8 683.0 612.9 691.0 612.5 702.0 609.4 706.0 609.2 710.3 611.0 711.4 612.0 713.0 615.1 713.8 616.0 717.0 617.9 718.9 620.0 720.0 620.3 722.0 619.9 723.0 619.0 724.1 614.0 726.0 612.3 727.0 611.9 729.0 611.7 730.1 612.0 731.2 613.0 734.3 623.0 735.7 625.0 738.0 627.2 738.4 629.0 737.7 630.0 737.6 633.0 740.9 637.0 741.5 639.0 741.5 641.0 740.0 645.0 737.7 655.0 735.5 660.0 732.7 665.0 731.0 670.0 729.2 688.0 728.4 691.0 726.8 695.0 723.6 700.0 721.6 702.0 718.0 704.6 716.2 707.0 712.8 713.0 712.0 717.0 710.0 722.4 708.8 728.0 708.5 736.0 708.9 743.0 710.7 749.0 710.8 751.0 710.6 752.0 710.0 752.7 706.0 752.9 702.0 753.7 701.0 753.0 700.7 746.0 701.2 739.0 700.2 734.0 700.0 729.8 699.0 728.0 698.0 728.3 697.0 729.7 694.5 735.0 694.1 737.0 693.8 746.0 693.0 749.0 692.0 750.9 691.0 750.9 689.0 749.8 688.0 750.1 684.0 753.2 680.0 755.2 678.0 755.8 674.0 755.8 673.0 756.2 670.0 758.7 668.0 759.7 666.0 759.6 664.6 759.0 662.6 757.0 661.4 754.0 659.7 745.0 656.7 739.0 655.4 729.0 653.0 724.9 652.0 724.2 651.0 724.9 650.0 727.0 649.0 728.0 648.0 728.1 647.0 727.6 644.0 723.8 642.0 722.9 640.0 721.1 637.0 717.0 632.0 711.1 631.0 710.7 627.0 710.8 625.0 710.1 623.8 709.0 621.9 706.0 616.1 700.0 613.0 698.3 609.0 697.6 607.9 697.0 606.0 695.2 605.3 694.0 604.3 690.0 602.1 686.0 600.0 683.7 594.1 679.0 592.1 676.0 591.3 674.0 591.0 671.0 592.0 660.9 594.1 655.0 595.3 650.0 599.4 640.0 603.9 634.0 607.0 628.1 610.0 623.4 615.0 616.9 619.0 613.0 622.7 610.0 625.0 608.8 628.9 608.0M687.0 717.7 686.0 718.1 685.3 719.0 684.9 721.0 685.0 722.0 686.0 724.0 687.0 724.3 688.0 723.4 689.1 721.0 688.7 719.0 688.0 718.1 687.0 717.7M670.0 718.9 668.0 720.4 666.6 722.0 665.5 724.0 664.9 727.0 665.2 729.0 667.0 733.4 669.0 741.0 670.1 743.0 671.0 743.7 672.0 744.0 673.2 743.0 676.1 737.0 675.1 731.0 675.6 723.0 675.0 720.8 673.7 719.0 672.0 718.4 670.0 718.9M529.6 773.0 530.0 772.4 531.0 772.2 531.6 773.0 531.8 774.0 531.0 775.4 530.0 775.5 529.5 775.0 529.3 774.0 529.6 773.0M578.3 850.0 578.2 844.0 580.3 834.0 580.3 830.0 581.0 828.3 582.0 828.6 585.0 834.0 586.0 834.1 588.9 830.0 590.0 829.2 591.0 829.4 591.6 830.0 592.5 832.0 596.0 843.8 598.0 848.8 599.0 849.2 600.0 849.0 601.1 850.0M607.4 850.0 609.1 846.0 608.9 844.0 608.0 842.7 607.0 842.1 606.0 842.1 604.0 843.3 601.0 846.0 600.9 845.0 601.3 833.0 604.0 826.9 605.0 825.6 606.0 825.5 607.0 827.0 610.4 835.0 610.9 838.0 610.8 844.0 612.3 850.0M625.2 850.0 629.2 841.0 631.0 839.0 633.0 838.2 634.0 838.5 635.0 839.4 637.1 843.0 638.2 846.0 638.6 850.0M651.6 850.0 651.4 847.0 650.1 842.0 650.7 839.0 651.0 838.4 657.0 837.0 660.0 838.1 662.0 839.8 662.8 841.0 663.6 844.0 663.8 850.0M763.6 599.0 767.0 598.6 770.0 599.3 771.0 600.3 771.6 602.0 771.3 605.0 769.9 608.0 767.0 610.8 763.0 612.2 760.0 612.1 758.0 611.3 756.8 610.0 756.4 609.0 756.5 607.0 757.2 605.0 759.8 601.0 761.0 600.0 763.6 599.0M628.6 610.0 632.0 610.2 638.0 612.5 646.0 614.9 652.0 617.5 658.0 617.8 663.0 619.1 667.0 619.6 672.0 619.9 681.0 616.1 684.0 615.4 692.0 616.0 697.0 615.5 701.0 615.7 702.2 616.0 703.8 619.0 705.0 620.0 711.0 623.3 716.0 626.8 718.0 627.4 722.0 627.7 730.0 626.7 733.0 627.8 737.0 630.8 737.2 632.0 736.4 633.0 736.6 637.0 738.0 639.0 738.2 640.0 736.6 646.0 735.9 652.0 735.4 654.0 729.9 665.0 728.2 671.0 727.0 676.6 725.7 680.0 723.1 689.0 721.9 691.0 718.5 695.0 716.9 698.0 713.9 702.0 708.9 710.0 708.3 712.0 707.4 721.0 706.2 727.0 706.1 733.0 705.0 735.4 704.0 734.4 703.7 733.0 703.7 728.0 702.9 723.0 703.3 717.0 702.7 715.0 700.7 711.0 700.0 708.7 699.0 709.4 697.0 712.0 694.0 714.5 693.0 714.4 690.3 711.0 689.0 710.0 687.0 709.6 686.0 709.9 684.7 711.0 682.7 715.0 681.0 717.2 680.0 717.9 679.0 718.0 677.0 717.0 674.0 714.5 670.0 712.9 667.0 708.6 666.0 708.3 661.8 711.0 661.1 712.0 661.0 713.0 662.4 716.0 662.7 718.0 662.0 719.6 659.0 723.5 658.0 723.5 657.7 722.0 658.2 719.0 658.1 712.0 657.2 710.0 655.0 707.6 653.0 707.1 651.3 708.0 648.0 711.4 644.0 712.3 641.0 713.8 640.0 713.9 639.0 713.4 638.0 712.4 637.2 711.0 636.9 709.0 637.1 706.0 636.0 703.9 634.0 703.0 628.0 703.3 623.0 700.7 615.8 693.0 615.6 692.0 615.8 690.0 615.4 689.0 614.0 688.1 611.0 687.4 608.0 686.1 605.0 683.2 600.0 677.5 596.1 675.0 595.0 673.7 594.1 670.0 594.2 667.0 595.7 660.0 597.2 655.0 598.1 650.0 601.1 641.0 605.0 635.6 610.0 627.3 613.6 623.0 617.0 618.1 623.1 612.0 625.0 610.9 628.6 610.0M663.5 745.0 664.0 744.3 665.0 744.1 666.0 744.4 668.2 746.0 669.9 748.0 670.3 749.0 670.2 751.0 669.0 754.0 668.0 755.2 667.0 755.5 666.0 755.2 665.0 754.3 664.0 752.7 662.9 748.0 663.1 746.0 663.5 745.0M580.6 850.0 580.2 845.0 581.0 841.7 582.0 840.9 585.0 841.5 586.0 841.1 589.0 838.3 590.0 837.9 591.0 838.5 593.2 843.0 593.9 846.0 594.3 850.0M629.5 850.0 631.0 844.1 632.0 842.6 633.0 842.2 634.6 843.0 635.9 845.0 636.8 850.0M655.3 850.0 655.1 845.0 655.4 843.0 656.0 841.9 657.0 841.2 658.0 841.2 659.2 842.0 660.5 844.0 661.4 850.0M763.4 602.0 765.0 601.8 767.0 602.3 768.0 603.5 768.3 605.0 767.8 607.0 766.2 609.0 765.0 609.7 763.0 610.1 762.0 610.0 760.3 609.0 759.5 607.0 759.6 606.0 760.6 604.0 762.0 602.7 763.4 602.0M626.9 613.0 630.0 612.4 632.8 613.0 639.0 615.3 643.0 617.5 651.0 620.4 657.0 620.8 664.0 621.9 672.0 622.7 676.0 620.8 682.0 619.1 685.0 618.7 689.0 619.0 696.0 621.2 703.0 625.3 710.0 628.5 716.0 630.6 720.0 631.4 725.0 630.9 728.0 631.0 732.0 632.0 735.0 634.0 736.0 635.1 736.1 636.0 735.3 637.0 735.0 643.0 733.0 651.8 730.5 658.0 726.9 665.0 724.7 671.0 721.2 677.0 720.3 682.0 718.2 687.0 717.0 689.0 714.0 692.6 713.0 693.2 707.0 692.3 702.9 690.0 700.0 685.9 699.0 685.5 697.0 685.8 694.7 688.0 693.8 690.0 694.9 693.0 694.4 694.0 693.0 694.8 689.0 694.2 686.0 695.4 683.1 697.0 681.1 699.0 680.0 701.0 679.8 702.0 679.9 706.0 679.0 708.2 678.0 708.9 677.0 708.9 675.0 708.0 673.8 707.0 673.4 706.0 673.9 702.0 673.8 700.0 673.0 697.9 671.1 695.0 671.0 694.0 672.0 692.4 674.6 685.0 675.2 678.0 675.0 675.0 674.0 672.0 673.0 670.9 671.0 670.4 668.0 671.6 666.1 673.0 663.0 677.5 662.0 678.0 658.0 678.8 651.9 685.0 650.2 688.0 648.1 693.0 647.0 693.6 646.0 693.3 644.0 691.8 641.0 690.8 638.0 689.0 637.0 688.9 635.0 689.2 633.8 690.0 630.7 694.0 629.0 695.4 628.0 695.7 626.0 695.2 623.0 693.1 622.0 691.6 621.4 688.0 620.3 686.0 615.0 682.7 610.0 680.1 607.4 677.0 603.1 673.0 601.7 671.0 601.6 669.0 602.4 667.0 602.6 665.0 601.0 660.0 601.2 651.0 601.8 647.0 603.0 642.7 608.0 634.7 615.0 626.1 618.0 621.4 620.8 618.0 624.7 614.0 626.9 613.0M662.3 689.0 665.0 688.5 666.8 689.0 667.6 690.0 667.4 693.0 664.0 694.3 662.0 694.4 661.0 693.0 660.9 692.0 661.4 690.0 662.3 689.0M585.9 850.0 588.0 844.5 589.0 843.4 590.0 843.3 591.3 845.0 592.0 850.0M762.8 606.0 764.0 605.6 764.5 606.0 764.6 607.0 764.0 607.5 763.0 607.4 762.6 607.0 762.8 606.0M627.8 618.0 631.0 617.6 634.0 618.0 636.0 619.0 638.0 621.5 639.4 622.0 645.0 622.7 647.0 624.0 649.0 625.9 651.0 626.4 654.0 625.6 658.0 625.9 663.0 625.2 672.0 625.8 674.0 625.4 678.0 623.5 682.9 622.0 685.0 621.9 687.0 622.2 689.5 623.0 697.0 626.5 702.0 630.3 710.0 633.7 717.0 634.3 725.0 634.0 730.0 635.6 731.0 636.3 732.0 638.0 732.7 642.0 732.5 645.0 731.1 649.0 729.0 653.0 726.9 659.0 722.2 665.0 716.7 674.0 716.0 676.0 715.7 680.0 715.0 681.4 714.0 682.2 712.0 682.2 708.0 680.6 702.9 677.0 701.8 676.0 701.3 675.0 701.0 671.0 700.3 670.0 699.0 669.2 694.0 668.1 689.0 668.2 686.0 667.6 683.0 666.6 678.0 663.8 671.0 662.6 668.0 663.2 662.0 666.1 659.0 668.0 655.0 669.1 650.0 672.3 646.0 672.2 644.0 672.9 641.1 675.0 638.6 679.0 638.0 679.8 637.0 680.3 633.0 677.7 629.0 674.3 628.0 674.2 623.0 675.4 621.0 675.0 620.0 674.4 619.0 673.0 617.8 669.0 614.0 666.9 613.0 665.4 612.5 664.0 612.2 660.0 611.9 659.0 607.0 652.3 605.4 648.0 605.3 646.0 605.8 644.0 609.9 637.0 613.8 633.0 624.0 619.7 627.8 618.0M643.9 679.0 646.0 679.6 647.0 680.6 647.2 682.0 646.3 683.0 645.0 682.8 643.2 681.0 642.8 680.0 643.9 679.0M625.9 626.0 627.0 626.3 628.7 628.0 629.8 631.0 629.5 633.0 628.0 636.0 627.0 643.3 626.4 645.0 625.0 646.7 623.7 649.0 622.5 650.0 621.0 650.6 620.0 650.7 613.0 648.2 612.0 647.0 612.0 644.9 613.0 643.8 616.8 643.0 619.0 641.9 619.6 641.0 620.9 635.0 621.5 630.0 623.0 627.4 625.0 626.1 625.9 626.0M681.6 627.0 684.0 626.8 690.0 628.8 699.0 635.2 701.0 636.3 705.0 636.8 713.0 639.1 716.0 638.9 721.0 637.1 723.0 637.1 725.7 638.0 728.0 639.2 729.0 640.2 729.9 642.0 730.0 644.4 729.0 646.6 725.7 651.0 723.8 657.0 722.0 659.0 719.0 660.6 718.0 660.4 715.9 658.0 715.0 657.5 714.0 657.5 708.0 659.0 703.0 662.4 700.0 663.2 698.0 663.3 692.0 662.5 688.0 660.8 683.0 660.3 672.0 656.7 669.0 656.5 664.0 658.2 662.4 658.0 661.0 657.3 658.1 654.0 653.4 647.0 653.4 644.0 654.2 642.0 657.1 639.0 659.3 635.0 663.0 633.1 667.0 630.2 669.0 629.6 676.0 628.9 681.6 627.0M647.2 645.0 649.0 644.5 650.5 645.0 651.3 647.0 650.7 648.0 643.0 653.1 642.0 653.3 641.7 653.0 641.9 652.0 643.0 648.7 645.0 646.4 647.2 645.0M674.6 635.0 687.0 635.4 688.3 636.0 693.0 639.6 697.0 641.0 699.0 642.4 700.2 644.0 701.4 648.0 701.5 650.0 700.3 655.0 699.0 657.6 698.0 658.3 697.0 658.4 695.0 658.0 693.0 656.5 690.0 653.0 689.0 652.4 688.0 652.3 685.0 654.1 683.0 654.7 676.0 652.7 670.0 652.0 666.0 650.7 665.0 649.4 664.7 648.0 665.2 642.0 669.6 637.0 672.0 635.7 674.6 635.0M675.2 644.0 676.0 643.6 677.0 643.8 677.3 644.0 677.4 645.0 675.8 645.0 675.2 644.0M786.0 743.0 792.0 741.0 800.0 744.0 812.0 742.0 822.0 745.0 832.0 748.0 843.0 752.0 852.0 757.0 862.0 762.0 864.0 772.0 863.0 782.0 870.0 788.0 873.0 796.0 878.0 801.0 883.0 806.0M727.0 793.0 735.0 791.0 745.0 795.0 758.0 799.0 773.0 803.0 781.0 799.0 788.0 795.0 798.0 800.0 808.0 799.0 817.0 793.0 825.0 790.0 829.0 783.0 829.0 777.0 834.0 770.0 838.0 762.0M838.0 805.0 845.0 807.0 852.0 805.0 861.0 807.0M956.5 191.4 955.8 191.9 954.6 191.6 954.1 190.5 955.5 190.0 956.6 190.3 957.0 190.9ZM957.9 230.1 956.5 231.0 955.3 230.6 954.5 230.3 953.4 229.2 955.2 228.8 956.0 229.6ZM957.8 243.2 957.3 243.8 956.3 243.7 955.9 243.0 955.9 242.1 957.2 242.0 958.0 242.6ZM956.2 247.7 955.0 247.4 954.1 247.5 954.2 246.9 954.5 246.3 955.3 246.6 956.2 246.8ZM946.9 264.0 944.8 264.4 942.7 264.4 942.6 262.9 943.5 262.1 945.4 260.7 946.3 262.5ZM946.0 274.5 943.3 274.4 941.2 275.1 941.4 273.5 941.3 272.0 943.6 271.6 944.2 273.1ZM948.3 260.0 948.2 261.1 946.8 260.6 945.4 260.5 946.2 259.7 946.7 259.1 947.6 259.4ZM563.7 437.9 562.8 438.6 561.7 438.1 561.2 437.3 561.9 436.6 562.9 436.8 563.6 437.2ZM563.1 442.4 562.8 443.0 561.9 443.0 561.0 442.6 561.4 441.9 562.1 441.6 563.0 441.7ZM611.7 371.3 611.2 372.6 609.9 371.6 609.5 371.1 609.8 370.5 610.9 369.3 611.9 370.4ZM641.2 365.9 640.4 366.8 639.7 365.9 639.7 365.3 639.7 364.3 640.9 364.9 641.9 365.3ZM648.2 364.8 647.8 365.8 646.0 366.7 645.2 365.3 645.6 364.5 646.4 364.1 647.7 363.8ZM653.7 363.0 652.6 363.0 651.9 362.7 652.0 362.1 652.5 361.6 653.5 361.6 653.8 362.2ZM628.3 387.8 626.0 388.8 624.5 387.9 621.6 387.7 623.2 386.1 625.0 386.2 627.3 386.0ZM631.4 386.5 630.9 387.3 629.7 387.3 628.3 387.1 627.8 385.7 629.6 385.4 631.3 385.4ZM639.4 394.1 638.8 394.5 638.2 394.1 638.4 393.6 638.8 393.4 639.6 393.3 640.1 393.8ZM640.3 398.9 639.4 399.4 638.3 398.9 637.9 398.0 638.8 397.4 640.0 397.4 641.3 398.0ZM609.2 386.1 608.3 386.7 607.6 386.0 607.2 385.5 607.4 384.7 608.7 384.6 610.0 385.2ZM698.8 389.5 698.8 393.2 694.0 392.1 694.6 389.1 693.1 386.0 697.6 386.3 698.7 388.3ZM703.9 391.8 702.6 393.9 700.7 392.0 699.6 390.9 700.7 389.6 702.7 389.5 703.7 390.5ZM711.3 386.0 709.8 387.6 707.6 387.1 706.7 386.4 705.8 385.2 707.6 384.7 709.2 385.0ZM697.1 405.6 694.2 406.2 692.8 404.7 690.9 403.6 692.3 401.8 694.5 403.2 695.9 403.6ZM752.1 389.5 750.6 390.1 749.2 390.0 748.3 389.2 747.9 387.6 750.2 387.0 751.2 388.4ZM756.2 392.3 754.0 391.8 752.9 391.6 752.2 390.7 753.1 389.6 755.1 389.5 756.0 390.7ZM786.0 441.1 783.6 442.2 780.0 442.5 780.1 439.9 782.1 439.1 783.5 438.8 787.0 438.8ZM789.7 443.7 788.5 444.3 786.8 443.7 786.0 441.9 788.7 441.9 790.9 441.4 792.1 443.1ZM804.6 466.7 801.5 468.4 798.3 466.3 799.5 463.5 802.5 462.6 806.0 462.8 806.0 465.2ZM811.2 463.8 809.7 464.7 808.0 463.9 806.4 462.1 809.3 461.5 811.8 460.9 813.5 462.7ZM773.0 464.6 771.2 464.5 770.1 464.9 769.0 464.1 770.5 463.6 771.2 463.4 772.9 463.3ZM752.6 464.1 752.4 464.6 751.6 464.5 750.7 464.2 751.1 463.4 752.1 463.3 752.7 463.7ZM748.1 481.2 746.8 482.0 745.4 482.2 744.7 481.3 745.3 480.7 745.9 480.2 747.3 480.1ZM778.1 481.2 777.3 481.5 776.2 482.1 775.5 481.2 775.9 480.3 777.1 479.9 778.5 480.2ZM771.3 479.4 770.4 480.0 769.1 479.9 768.6 479.0 769.4 478.5 770.2 478.3 771.1 478.6ZM735.8 483.6 734.8 483.9 734.4 483.3 734.5 482.9 734.6 482.1 735.5 482.4 736.2 482.9ZM850.6 438.8 849.1 439.1 848.2 438.5 848.0 437.9 848.4 437.2 849.4 437.3 850.0 437.8ZM852.4 451.5 851.2 451.7 850.3 451.6 849.9 451.0 850.7 450.7 851.3 450.1 851.9 450.7ZM845.8 464.6 844.9 464.5 843.8 464.5 844.2 463.8 844.8 463.5 845.4 463.5 846.1 463.9ZM871.9 471.0 871.3 471.4 870.5 472.1 870.3 471.2 869.5 470.4 870.8 470.2 871.6 470.5ZM910.3 438.1 909.8 438.8 908.7 438.7 907.7 438.4 907.5 437.4 908.8 437.3 909.4 437.7ZM931.8 561.1 931.6 561.8 930.5 561.8 930.1 561.2 929.4 560.1 931.0 560.4 931.7 560.6ZM980.1 597.5 979.1 597.8 978.2 597.5 977.5 596.8 978.4 596.3 979.4 596.3 979.5 596.9ZM901.8 533.3 901.1 533.6 900.4 533.5 899.8 532.9 900.4 532.4 901.4 531.9 901.6 532.8Z" fill="none" stroke="#000" stroke-opacity="0.62" stroke-width="0.55" stroke-linejoin="round"/>
<path d="M625.0 372.5 L618.4 374.1 L613.5 373.6 L610.5 376.6 L609.4 386.4 L608.6 397.9 L605.3 399.9 L599.5 402.0 L595.4 406.1 L590.5 411.1 L583.9 414.0 L579.0 417.6 L574.9 424.2 L571.6 433.2 L566.7 439.0 L565.9 447.2 L563.4 450.8 L557.6 453.8 L551.1 456.2 L545.3 461.2 L537.9 466.9 L533.8 471.0 L532.2 477.6 L535.5 479.2 L531.4 481.7 L534.6 485.0 L537.9 488.3 L536.3 493.2 L530.5 494.8 L525.6 497.3 L524.8 503.1 L526.4 509.6 L530.5 514.6 L534.6 521.1 L536.3 530.0 L535.5 539.9 L531.4 546.4 L525.6 550.5 L518.2 552.2 L514.9 556.3 L514.1 563.7 L516.6 570.2 L523.1 573.0 L531.4 575.2 L536.3 579.3 L538.3 587.5 L537.1 599.0 L533.0 604.7 L528.1 607.2 L526.4 612.1 L528.1 619.5 L532.2 622.0 L534.6 626.9 L532.2 632.7 L524.8 635.1 L520.7 636.8 L519.0 643.3 L518.2 651.6 L522.3 655.7 L519.9 659.8 L522.3 663.1 L520.7 668.0 L517.4 674.6 L515.7 682.8 L516.2 690.0 L518.2 692.7 L510.5 705.5 L489.9 724.8 L469.4 741.4 L448.9 756.8 L430.9 768.4 L423.2 777.4 L418.1 785.1 L418.1 808.2 L412.9 824.9M625.0 372.5 L630.0 369.1 L632.5 369.7 L642.3 367.2 L659.6 365.0 L667.0 366.6 L670.7 368.5 L673.7 374.6 L681.7 379.0 L687.9 380.2 L692.8 374.0 L699.0 372.2 L708.8 370.3 L718.7 367.2M718.7 367.2 L718.1 373.4 L715.0 376.5 L710.7 375.3 L692.8 391.9 L705.8 406.1 L722.4 390.0 L718.1 385.1 L721.2 383.3 L732.3 386.3 L739.0 393.1 L736.0 395.6 L739.6 399.9 L736.6 401.7 L733.5 396.8 L728.6 396.2 L715.0 409.1M715.0 409.1 L765.4 457.3 L787.9 438.0M835.0 422.8 L818.8 422.6 L813.0 418.1 L785.8 393.8 L780.9 398.1 L818.8 436.5 L802.1 454.7 L787.3 441.9 L789.9 439.3 L787.9 438.0 L751.9 404.6 L748.7 408.7M929.1 145.1 L938.1 195.2 L935.5 242.7 L932.2 299.1 L920.1 327.4 L902.3 370.0 L897.4 381.5 L881.7 399.6 L865.3 417.6 L857.1 421.3 L841.5 422.2 L830.0 422.9 L835.0 422.8" fill="none" stroke="#000" stroke-width="2.08" stroke-linejoin="round" stroke-linecap="butt"/><path d="M750.0 407.8 L763.5 418.7 L786.3 438.9" fill="none" stroke="#000" stroke-width="1.2"/><path d="M718.7 367.2 L723.6 365.4 L742.7 359.2" fill="none" stroke="#000" stroke-width="3.6" stroke-linecap="butt"/>
<g fill="#ff0000">
<polygon points="114.9,179.4 86.7,120.9 88.5,120.0 82.7,114.8 83.1,122.6 85.0,121.7 113.1,180.2"/>
<polygon points="114.8,232.3 82.2,167.6 84.0,166.7 78.1,161.6 78.7,169.4 80.5,168.5 113.2,233.1"/>
<polygon points="114.8,285.1 76.3,216.7 78.1,215.7 71.9,210.9 72.8,218.7 74.6,217.6 113.2,286.1"/>
<polygon points="114.8,338.0 72.3,268.4 74.1,267.4 67.8,262.8 69.0,270.5 70.7,269.4 113.2,339.0"/>
<polygon points="114.8,390.9 68.9,319.7 70.6,318.6 64.2,314.1 65.5,321.8 67.3,320.7 113.2,391.9"/>
<polygon points="114.8,443.8 64.3,367.0 66.0,365.9 59.5,361.5 61.0,369.2 62.7,368.1 113.2,444.8"/>
<polygon points="114.8,496.7 64.3,420.7 66.0,419.6 59.5,415.2 61.0,422.9 62.7,421.8 113.2,497.7"/>
<polygon points="114.8,549.6 64.3,473.3 66.0,472.2 59.5,467.8 61.0,475.5 62.7,474.4 113.2,550.6"/>
<polygon points="114.8,602.5 64.3,527.3 66.0,526.1 59.5,521.8 61.0,529.5 62.7,528.3 113.2,603.5"/>
<polygon points="114.8,655.3 64.5,585.2 66.1,584.0 59.5,579.9 61.3,587.5 62.9,586.3 113.2,656.5"/>
<polygon points="114.8,708.2 64.6,641.0 66.2,639.7 59.5,635.7 61.4,643.3 63.0,642.1 113.2,709.4"/>
<polygon points="114.8,761.1 64.7,696.3 66.3,695.0 59.5,691.2 61.5,698.7 63.2,697.4 113.2,762.3"/>
<polygon points="114.7,814.0 64.8,754.1 66.4,752.8 59.5,749.2 61.8,756.7 63.4,755.3 113.3,815.2"/>
<polygon points="114.7,866.9 65.0,810.6 66.5,809.3 59.5,805.9 62.0,813.3 63.6,811.9 113.3,868.1"/>
<polygon points="167.8,179.4 139.1,120.9 141.0,119.9 135.1,114.8 135.6,122.6 137.4,121.7 166.0,180.2"/>
<polygon points="167.7,232.3 135.7,170.6 137.5,169.7 131.5,164.7 132.2,172.5 134.0,171.5 166.1,233.1"/>
<polygon points="167.7,285.1 130.7,219.3 132.5,218.3 126.3,213.5 127.2,221.2 129.0,220.2 166.1,286.1"/>
<polygon points="167.7,338.0 125.2,268.4 127.0,267.4 120.6,262.8 121.8,270.5 123.6,269.4 166.1,339.0"/>
<polygon points="167.7,390.9 120.0,317.3 121.7,316.2 115.2,311.8 116.6,319.5 118.4,318.4 166.1,391.9"/>
<polygon points="167.7,443.8 118.7,370.9 120.4,369.8 113.9,365.5 115.5,373.1 117.2,372.0 166.1,444.8"/>
<polygon points="167.7,496.7 116.3,423.2 117.9,422.0 111.4,417.9 113.0,425.5 114.7,424.3 166.1,497.7"/>
<polygon points="167.7,549.6 116.3,476.3 117.9,475.2 111.3,471.0 113.0,478.6 114.7,477.4 166.1,550.6"/>
<polygon points="167.7,602.4 114.5,529.2 116.2,528.0 109.5,523.9 111.3,531.5 113.0,530.3 166.1,603.6"/>
<polygon points="167.7,655.3 115.1,585.5 116.8,584.3 110.0,580.4 112.0,587.9 113.6,586.7 166.1,656.5"/>
<polygon points="167.6,708.2 113.9,639.9 115.5,638.6 108.7,634.8 110.8,642.3 112.4,641.1 166.2,709.4"/>
<polygon points="167.6,761.1 113.5,693.7 115.1,692.5 108.2,688.7 110.4,696.2 112.0,694.9 166.2,762.3"/>
<polygon points="167.6,814.0 112.2,747.3 113.8,746.0 106.9,742.4 109.2,749.8 110.8,748.5 166.2,815.2"/>
<polygon points="167.6,866.9 110.5,800.6 112.1,799.3 105.1,795.8 107.5,803.2 109.1,801.9 166.2,868.1"/>
<polygon points="220.6,179.4 191.8,123.8 193.6,122.8 187.6,117.8 188.3,125.6 190.1,124.6 219.0,180.2"/>
<polygon points="220.6,232.2 188.4,174.4 190.2,173.4 184.1,168.6 185.0,176.3 186.8,175.3 219.0,233.2"/>
<polygon points="220.6,285.1 181.8,223.7 183.5,222.6 177.1,218.1 178.4,225.8 180.1,224.7 219.0,286.1"/>
<polygon points="220.6,338.0 174.7,270.3 176.4,269.1 169.9,264.9 171.4,272.5 173.1,271.4 219.0,339.0"/>
<polygon points="220.6,390.9 171.4,318.3 173.1,317.1 166.5,312.9 168.1,320.5 169.8,319.4 219.0,391.9"/>
<polygon points="220.6,443.8 168.4,369.3 170.0,368.1 163.5,363.9 165.1,371.6 166.8,370.4 219.0,444.8"/>
<polygon points="220.6,496.6 165.9,421.3 167.5,420.1 160.9,416.1 162.7,423.7 164.3,422.5 219.0,497.8"/>
<polygon points="220.6,549.5 165.9,474.0 167.5,472.8 160.9,468.7 162.7,476.3 164.3,475.1 219.0,550.7"/>
<polygon points="220.6,602.4 166.7,530.1 168.3,528.9 161.6,524.9 163.5,532.5 165.2,531.3 219.0,603.6"/>
<polygon points="220.6,655.3 164.7,583.4 166.3,582.2 159.6,578.3 161.6,585.8 163.2,584.6 219.0,656.5"/>
<polygon points="220.5,708.2 164.4,641.5 165.9,640.2 159.0,636.6 161.4,644.1 162.9,642.8 219.1,709.4"/>
<polygon points="220.5,761.1 163.7,695.4 165.2,694.0 158.2,690.6 160.7,698.0 162.2,696.6 219.1,762.3"/>
<polygon points="220.5,814.0 162.4,749.2 164.0,747.8 156.9,744.5 159.5,751.8 161.0,750.5 219.1,815.2"/>
<polygon points="220.5,866.9 162.4,801.8 164.0,800.5 156.9,797.1 159.5,804.5 161.0,803.1 219.1,868.1"/>
<polygon points="273.5,179.3 242.4,127.5 244.2,126.4 237.9,121.8 239.0,129.5 240.8,128.5 271.9,180.3"/>
<polygon points="273.5,232.3 246.8,182.2 248.7,181.2 242.6,176.2 243.4,184.0 245.2,183.0 271.9,233.1"/>
<polygon points="273.5,285.1 235.7,227.2 237.4,226.1 231.0,221.7 232.4,229.4 234.1,228.3 271.9,286.1"/>
<polygon points="273.5,337.9 226.3,275.2 227.9,274.0 221.2,270.0 223.1,277.6 224.7,276.3 271.9,339.1"/>
<polygon points="273.4,390.8 220.5,325.1 222.1,323.8 215.2,320.1 217.4,327.6 219.0,326.3 272.0,392.0"/>
<polygon points="273.4,443.7 216.2,373.3 217.7,372.0 210.9,368.4 213.1,375.8 214.7,374.5 272.0,444.9"/>
<polygon points="273.4,496.6 214.4,424.2 216.0,422.9 209.1,419.2 211.3,426.7 212.9,425.4 272.0,497.8"/>
<polygon points="273.4,549.5 212.8,474.3 214.4,473.0 207.5,469.2 209.7,476.7 211.3,475.4 272.0,550.7"/>
<polygon points="273.4,602.4 212.8,527.4 214.4,526.1 207.5,522.4 209.7,529.9 211.3,528.6 272.0,603.6"/>
<polygon points="273.4,655.3 213.6,583.3 215.2,582.0 208.3,578.3 210.6,585.8 212.2,584.5 272.0,656.5"/>
<polygon points="273.4,708.2 212.5,640.9 214.0,639.5 207.0,636.2 209.6,643.5 211.1,642.1 272.0,709.4"/>
<polygon points="273.4,761.1 213.4,697.0 214.9,695.6 207.7,692.4 210.5,699.7 212.0,698.3 272.0,762.3"/>
<polygon points="273.4,813.9 214.0,754.1 215.4,752.6 208.2,749.6 211.2,756.9 212.6,755.4 272.0,815.3"/>
<polygon points="273.4,866.8 213.3,807.9 214.7,806.4 207.4,803.6 210.5,810.7 211.9,809.3 272.0,868.2"/>
<polygon points="326.3,179.1 298.8,152.5 300.2,151.1 292.9,148.2 296.0,155.4 297.4,153.9 324.9,180.5"/>
<polygon points="326.4,232.2 305.8,197.4 307.6,196.3 301.4,191.7 302.4,199.4 304.2,198.4 324.8,233.2"/>
<polygon points="326.4,285.1 297.0,232.9 298.8,231.9 292.7,227.1 293.6,234.8 295.4,233.8 324.8,286.1"/>
<polygon points="326.4,338.0 282.6,276.1 284.3,274.9 277.7,270.8 279.4,278.4 281.1,277.2 324.8,339.0"/>
<polygon points="326.3,390.8 272.2,325.8 273.7,324.5 266.8,320.9 269.1,328.3 270.7,327.0 324.9,392.0"/>
<polygon points="326.3,443.7 263.8,374.1 265.4,372.8 258.3,369.4 260.9,376.8 262.4,375.4 324.9,444.9"/>
<polygon points="326.3,496.6 261.3,426.9 262.8,425.5 255.7,422.3 258.5,429.6 260.0,428.2 324.9,497.8"/>
<polygon points="326.3,549.4 260.8,479.8 262.3,478.4 255.2,475.2 258.0,482.5 259.5,481.1 324.9,550.8"/>
<polygon points="326.3,602.4 258.8,530.4 260.3,529.0 253.2,525.8 255.9,533.1 257.4,531.7 324.9,603.6"/>
<polygon points="326.3,655.2 258.8,584.2 260.3,582.8 253.2,579.7 255.9,587.0 257.4,585.5 324.9,656.6"/>
<polygon points="326.3,708.1 259.6,638.2 261.1,636.8 253.9,633.6 256.7,640.9 258.2,639.5 324.9,709.5"/>
<polygon points="326.3,761.0 259.0,696.2 260.4,694.7 253.1,691.9 256.2,699.1 257.7,697.6 324.9,762.4"/>
<polygon points="326.2,813.9 261.2,755.6 262.5,754.1 255.2,751.5 258.5,758.5 259.9,757.0 325.0,815.3"/>
<polygon points="326.2,866.8 264.3,813.5 265.6,811.9 258.2,809.5 261.7,816.5 263.1,814.9 325.0,868.2"/>
<polygon points="379.0,179.0 339.7,151.7 340.9,150.0 333.2,148.4 337.4,154.9 338.6,153.2 378.0,180.6"/>
<polygon points="379.2,232.0 351.5,205.2 352.9,203.7 345.7,200.8 348.7,208.0 350.2,206.5 377.8,233.4"/>
<polygon points="379.3,285.1 354.1,244.8 355.8,243.7 349.5,239.2 350.7,246.9 352.5,245.8 377.7,286.1"/>
<polygon points="379.3,338.0 348.6,286.4 350.4,285.4 344.1,280.7 345.2,288.5 347.0,287.4 377.7,339.0"/>
<polygon points="379.3,390.8 329.4,325.7 331.0,324.5 324.2,320.6 326.2,328.1 327.9,326.9 377.7,392.0"/>
<polygon points="379.2,443.7 317.7,376.7 319.2,375.3 312.1,372.0 314.8,379.3 316.3,377.9 377.8,444.9"/>
<polygon points="379.2,496.5 310.1,426.3 311.5,424.9 304.4,421.8 307.3,429.1 308.7,427.6 377.8,497.9"/>
<polygon points="379.2,549.4 306.4,478.8 307.9,477.3 300.6,474.5 303.7,481.6 305.1,480.2 377.8,550.8"/>
<polygon points="379.2,602.3 306.5,532.2 307.9,530.7 300.6,527.9 303.7,535.0 305.1,533.5 377.8,603.7"/>
<polygon points="379.2,655.2 307.0,584.8 308.4,583.4 301.1,580.5 304.2,587.6 305.6,586.2 377.8,656.6"/>
<polygon points="379.1,708.1 306.0,640.4 307.4,638.9 300.1,636.2 303.3,643.3 304.7,641.8 377.9,709.5"/>
<polygon points="379.1,761.0 306.6,698.5 308.0,696.9 300.6,694.5 304.1,701.5 305.4,699.9 377.9,762.4"/>
<polygon points="379.1,813.9 308.1,757.3 309.3,755.7 301.8,753.6 305.6,760.4 306.9,758.8 377.9,815.3"/>
<polygon points="379.1,866.7 313.2,818.2 314.4,816.6 306.8,814.7 310.8,821.4 312.0,819.7 377.9,868.3"/>
<polygon points="432.1,179.1 387.2,134.9 388.6,133.4 381.4,130.5 384.4,137.7 385.9,136.2 430.7,180.5"/>
<polygon points="431.9,231.9 390.3,203.0 391.4,201.3 383.8,199.7 388.0,206.3 389.2,204.6 430.9,233.5"/>
<polygon points="432.1,284.9 403.0,255.3 404.5,253.9 397.3,250.9 400.2,258.1 401.6,256.7 430.7,286.3"/>
<polygon points="432.2,338.0 405.4,294.8 407.2,293.8 400.8,289.2 402.1,296.9 403.8,295.8 430.6,339.0"/>
<polygon points="432.2,390.9 390.2,327.8 391.9,326.7 385.4,322.3 386.9,330.0 388.6,328.9 430.6,391.9"/>
<polygon points="432.1,443.7 378.3,377.7 379.8,376.4 373.0,372.7 375.2,380.2 376.8,378.9 430.7,444.9"/>
<polygon points="432.1,496.5 367.8,428.2 369.3,426.8 362.1,423.6 364.9,430.9 366.4,429.5 430.7,497.9"/>
<polygon points="432.1,549.4 359.7,477.6 361.1,476.1 353.9,473.2 356.9,480.4 358.3,478.9 430.7,550.8"/>
<polygon points="432.0,602.3 354.4,530.5 355.8,529.0 348.5,526.3 351.7,533.4 353.1,531.9 430.8,603.7"/>
<polygon points="432.0,655.2 352.7,584.6 354.0,583.1 346.7,580.5 350.0,587.5 351.4,586.0 430.8,656.6"/>
<polygon points="432.0,708.1 354.0,640.8 355.3,639.2 347.9,636.8 351.4,643.7 352.8,642.2 430.8,709.5"/>
<polygon points="432.0,760.9 354.7,702.0 356.0,700.4 348.4,698.4 352.3,705.2 353.6,703.5 430.8,762.5"/>
<polygon points="431.9,813.8 356.9,762.1 358.1,760.4 350.4,758.8 354.7,765.3 355.8,763.6 430.9,815.4"/>
<polygon points="431.9,866.7 363.4,822.7 364.5,821.0 356.8,819.6 361.3,826.1 362.4,824.3 430.9,868.3"/>
<polygon points="485.0,179.2 436.8,124.9 438.3,123.6 431.3,120.2 433.8,127.6 435.4,126.2 483.6,180.4"/>
<polygon points="485.0,232.0 428.9,172.8 430.3,171.4 423.2,168.2 426.0,175.5 427.5,174.1 483.6,233.4"/>
<polygon points="485.0,285.0 440.8,235.1 442.3,233.7 435.3,230.3 437.8,237.7 439.4,236.3 483.6,286.2"/>
<polygon points="485.1,337.9 457.7,302.6 459.3,301.4 452.6,297.5 454.6,305.0 456.2,303.8 483.5,339.1"/>
<polygon points="485.1,390.9 450.7,337.6 452.4,336.5 446.0,332.1 447.4,339.8 449.1,338.7 483.5,391.9"/>
<polygon points="485.1,443.7 439.1,379.3 440.7,378.1 434.1,374.0 435.9,381.6 437.5,380.4 483.5,444.9"/>
<polygon points="485.0,496.6 428.6,429.3 430.2,427.9 423.3,424.3 425.6,431.8 427.2,430.5 483.6,497.8"/>
<polygon points="485.0,549.4 417.9,480.7 419.3,479.3 412.2,476.2 415.1,483.5 416.5,482.1 483.6,550.8"/>
<polygon points="485.0,602.3 411.6,531.4 413.0,529.9 405.7,527.1 408.8,534.3 410.2,532.8 483.6,603.7"/>
<polygon points="484.9,655.2 409.1,585.2 410.5,583.7 403.1,581.0 406.4,588.1 407.8,586.6 483.7,656.6"/>
<polygon points="484.9,708.1 408.0,644.0 409.3,642.4 401.8,640.1 405.4,647.0 406.7,645.5 483.7,709.5"/>
<polygon points="484.9,760.9 408.2,706.5 409.4,704.8 401.8,703.1 405.9,709.7 407.1,708.0 483.7,762.5"/>
<polygon points="484.8,813.8 408.0,771.3 408.9,769.5 401.2,768.6 406.0,774.7 407.0,772.9 483.8,815.4"/>
<polygon points="538.0,179.2 492.3,120.0 494.0,118.8 487.2,114.9 489.2,122.4 490.8,121.2 536.4,180.4"/>
<polygon points="537.9,232.1 482.2,163.9 483.8,162.6 476.9,158.9 479.2,166.4 480.7,165.1 536.5,233.3"/>
<polygon points="537.9,285.0 484.9,222.8 486.4,221.5 479.5,218.0 481.9,225.4 483.4,224.1 536.5,286.2"/>
<polygon points="537.9,337.9 496.5,285.9 498.1,284.6 491.3,280.8 493.4,288.3 495.0,287.0 536.5,339.1"/>
<polygon points="538.0,390.9 512.6,353.7 514.3,352.5 507.8,348.3 509.4,355.9 511.1,354.8 536.4,391.9"/>
<polygon points="538.1,443.9 527.3,420.8 529.1,419.9 523.4,414.7 523.7,422.5 525.5,421.6 536.3,444.7"/>
<polygon points="538.0,496.7 494.2,434.8 495.9,433.6 489.3,429.4 491.0,437.0 492.7,435.8 536.4,497.7"/>
<polygon points="537.9,549.5 479.8,484.8 481.4,483.4 474.3,480.1 476.9,487.4 478.4,486.1 536.5,550.7"/>
<polygon points="537.9,602.3 470.5,535.3 472.0,533.9 464.8,530.9 467.8,538.1 469.2,536.7 536.5,603.7"/>
<polygon points="537.8,655.2 464.8,587.8 466.2,586.3 458.8,583.6 462.1,590.7 463.5,589.2 536.6,656.6"/>
<polygon points="537.8,708.1 464.4,644.6 465.7,643.1 458.3,640.6 461.8,647.6 463.1,646.0 536.6,709.5"/>
<polygon points="537.7,760.9 466.0,710.3 467.1,708.6 459.5,706.9 463.7,713.5 464.9,711.8 536.7,762.5"/>
<polygon points="537.6,813.8 465.5,775.5 466.4,773.7 458.7,773.0 463.6,779.0 464.6,777.2 536.8,815.4"/>
<polygon points="590.9,179.3 547.0,116.2 548.7,115.0 542.1,110.8 543.7,118.4 545.4,117.3 589.3,180.3"/>
<polygon points="590.9,232.1 536.7,159.0 538.3,157.7 531.6,153.7 533.5,161.3 535.2,160.1 589.3,233.3"/>
<polygon points="590.9,285.0 535.5,212.8 537.1,211.5 530.3,207.7 532.3,215.2 534.0,214.0 589.3,286.2"/>
<polygon points="590.8,337.9 540.6,273.3 542.3,272.1 535.5,268.2 537.5,275.8 539.1,274.5 589.4,339.1"/>
<polygon points="590.9,390.9 553.3,335.7 555.0,334.6 548.5,330.3 550.1,338.0 551.8,336.8 589.3,391.9"/>
<polygon points="590.9,443.8 567.9,408.6 569.6,407.5 563.1,403.1 564.5,410.8 566.3,409.6 589.3,444.8"/>
<polygon points="590.9,496.8 577.7,470.8 579.5,469.8 573.6,464.8 574.2,472.6 576.0,471.6 589.3,497.6"/>
<polygon points="590.9,549.6 578.0,527.4 579.7,526.4 573.5,521.7 574.5,529.4 576.3,528.4 589.3,550.6"/>
<polygon points="590.8,602.3 558.4,568.3 559.9,566.9 552.8,563.7 555.6,571.0 557.0,569.6 589.4,603.7"/>
<polygon points="590.7,655.2 525.0,596.6 526.4,595.1 519.0,592.5 522.4,599.5 523.8,598.0 589.5,656.6"/>
<polygon points="590.7,708.1 522.7,652.2 524.0,650.6 516.5,648.4 520.2,655.3 521.5,653.7 589.5,709.5"/>
<polygon points="590.7,760.9 524.0,711.4 525.2,709.8 517.7,707.9 521.7,714.6 522.9,713.0 589.5,762.5"/>
<polygon points="590.6,813.8 524.3,775.7 525.3,773.9 517.6,772.9 522.3,779.1 523.4,777.3 589.6,815.4"/>
<polygon points="643.8,179.3 600.8,114.0 602.5,112.9 596.0,108.5 597.5,116.2 599.2,115.0 642.2,180.3"/>
<polygon points="643.8,232.2 592.3,153.6 594.0,152.4 587.5,148.1 589.0,155.7 590.7,154.6 642.2,233.2"/>
<polygon points="643.8,285.1 592.4,209.9 594.0,208.8 587.5,204.5 589.1,212.2 590.8,211.0 642.2,286.1"/>
<polygon points="643.8,338.0 592.9,266.3 594.6,265.2 588.0,261.0 589.7,268.6 591.4,267.4 642.2,339.0"/>
<polygon points="643.8,390.8 600.0,332.9 601.6,331.7 594.9,327.8 596.9,335.3 598.5,334.1 642.2,392.0"/>
<polygon points="643.8,443.8 607.1,391.7 608.8,390.5 602.2,386.3 603.9,394.0 605.5,392.8 642.2,444.8"/>
<polygon points="643.8,496.7 619.8,454.8 621.6,453.8 615.4,449.0 616.4,456.8 618.2,455.8 642.2,497.7"/>
<polygon points="643.8,549.7 624.8,512.2 626.6,511.2 620.7,506.2 621.3,514.0 623.1,513.0 642.2,550.5"/>
<polygon points="643.7,602.4 597.0,542.6 598.6,541.3 591.8,537.5 593.9,545.0 595.5,543.8 642.3,603.6"/>
<polygon points="643.7,655.2 582.4,596.8 583.8,595.3 576.6,592.5 579.7,599.6 581.1,598.1 642.3,656.6"/>
<polygon points="643.6,708.1 583.0,658.0 584.3,656.4 576.8,654.1 580.5,661.0 581.8,659.5 642.4,709.5"/>
<polygon points="643.6,760.9 584.5,717.2 585.7,715.5 578.1,713.7 582.1,720.4 583.3,718.7 642.4,762.5"/>
<polygon points="643.5,813.8 584.6,775.2 585.7,773.5 578.1,772.0 582.4,778.5 583.6,776.8 642.5,815.4"/>
<polygon points="696.7,179.3 655.4,110.5 657.2,109.4 650.9,104.8 652.0,112.5 653.8,111.5 695.1,180.3"/>
<polygon points="696.7,232.2 647.8,152.4 649.6,151.3 643.2,146.8 644.4,154.5 646.2,153.4 695.1,233.2"/>
<polygon points="696.7,285.1 646.6,205.5 648.3,204.4 641.9,199.9 643.2,207.6 645.0,206.5 695.1,286.1"/>
<polygon points="696.7,338.0 646.7,261.4 648.4,260.3 641.9,255.9 643.4,263.5 645.1,262.4 695.1,339.0"/>
<polygon points="696.7,390.9 646.7,314.5 648.4,313.4 641.9,309.0 643.4,316.7 645.1,315.5 695.1,391.9"/>
<polygon points="696.7,443.8 651.9,378.6 653.6,377.4 647.0,373.2 648.6,380.8 650.3,379.7 695.1,444.8"/>
<polygon points="696.7,496.7 654.9,426.0 656.6,425.0 650.4,420.3 651.5,428.0 653.2,427.0 695.1,497.7"/>
<polygon points="696.7,549.7 655.3,471.9 657.1,470.9 651.1,465.9 651.8,473.7 653.6,472.8 695.1,550.5"/>
<polygon points="696.7,602.5 652.2,527.2 653.9,526.2 647.7,521.5 648.8,529.2 650.5,528.2 695.1,603.5"/>
<polygon points="696.6,655.3 647.8,595.4 649.4,594.1 642.5,590.4 644.7,597.9 646.3,596.6 695.2,656.5"/>
<polygon points="696.6,708.1 650.6,662.4 652.0,660.9 644.8,658.0 647.8,665.2 649.2,663.7 695.2,709.5"/>
<polygon points="696.5,761.0 647.2,720.3 648.5,718.7 641.1,716.4 644.7,723.3 646.0,721.7 695.3,762.4"/>
<polygon points="696.5,813.8 647.7,777.9 648.9,776.3 641.4,774.4 645.4,781.1 646.6,779.5 695.3,815.4"/>
<polygon points="749.6,179.3 709.3,110.3 711.0,109.3 704.8,104.6 705.8,112.3 707.6,111.3 748.0,180.3"/>
<polygon points="749.6,232.2 703.7,153.8 705.4,152.7 699.2,148.0 700.3,155.8 702.0,154.7 748.0,233.2"/>
<polygon points="749.6,285.1 702.5,207.6 704.2,206.5 697.9,201.9 699.1,209.7 700.8,208.6 748.0,286.1"/>
<polygon points="749.6,338.0 701.3,260.9 703.0,259.8 696.6,255.3 697.9,263.0 699.6,261.9 748.0,339.0"/>
<polygon points="749.6,390.9 701.0,314.1 702.7,313.0 696.4,308.5 697.7,316.2 699.4,315.1 748.0,391.9"/>
<polygon points="749.6,443.8 704.0,376.2 705.7,375.1 699.2,370.8 700.7,378.4 702.4,377.3 748.0,444.8"/>
<polygon points="749.6,496.7 702.9,416.7 704.7,415.7 698.5,411.0 699.5,418.7 701.3,417.7 748.0,497.7"/>
<polygon points="749.6,549.7 707.3,466.2 709.1,465.3 703.2,460.2 703.8,468.0 705.6,467.0 748.0,550.5"/>
<polygon points="749.6,602.6 710.3,524.9 712.1,524.0 706.2,518.9 706.8,526.7 708.6,525.8 748.0,603.4"/>
<polygon points="749.6,655.4 712.5,592.6 714.3,591.6 708.0,586.9 709.1,594.6 710.9,593.6 748.0,656.4"/>
<polygon points="749.5,708.2 716.2,665.8 717.8,664.5 711.0,660.7 713.1,668.2 714.7,666.9 748.1,709.4"/>
<polygon points="749.5,761.1 712.3,721.4 713.8,720.0 706.7,716.8 709.4,724.1 710.9,722.7 748.1,762.3"/>
<polygon points="749.4,813.9 710.9,778.1 712.3,776.6 705.0,773.9 708.2,781.0 709.6,779.5 748.2,815.3"/>
<polygon points="802.5,179.3 763.2,112.9 765.0,111.9 758.7,107.2 759.8,114.9 761.6,113.9 800.9,180.3"/>
<polygon points="802.5,232.2 758.1,156.3 759.9,155.3 753.6,150.6 754.7,158.3 756.5,157.3 800.9,233.2"/>
<polygon points="802.5,285.1 758.1,209.7 759.9,208.7 753.6,204.0 754.7,211.7 756.5,210.7 800.9,286.1"/>
<polygon points="802.5,338.0 755.1,260.2 756.8,259.2 750.5,254.6 751.7,262.3 753.5,261.2 800.9,339.0"/>
<polygon points="802.5,390.9 754.4,313.6 756.1,312.5 749.8,308.0 751.0,315.7 752.8,314.6 800.9,391.9"/>
<polygon points="802.5,443.8 756.2,375.9 757.9,374.8 751.4,370.5 753.0,378.1 754.7,377.0 800.9,444.8"/>
<polygon points="802.5,496.7 757.5,417.4 759.3,416.4 753.1,411.6 754.0,419.3 755.8,418.3 800.9,497.7"/>
<polygon points="802.6,549.7 762.3,467.9 764.1,467.0 758.2,461.8 758.7,469.6 760.5,468.7 800.8,550.5"/>
<polygon points="802.6,602.6 769.5,529.4 771.4,528.5 765.7,523.2 765.9,531.0 767.8,530.2 800.8,603.4"/>
<polygon points="802.6,655.5 773.2,595.5 775.1,594.6 769.2,589.5 769.7,597.2 771.5,596.3 800.8,656.3"/>
<polygon points="802.5,708.3 777.8,665.6 779.6,664.5 773.4,659.8 774.4,667.5 776.2,666.5 800.9,709.3"/>
<polygon points="802.5,761.1 771.4,720.2 773.0,719.0 766.3,715.1 768.2,722.6 769.9,721.4 800.9,762.3"/>
<polygon points="802.4,814.0 767.4,772.1 768.9,770.8 762.0,767.2 764.3,774.6 765.9,773.3 801.0,815.2"/>
<polygon points="802.4,866.8 762.8,825.2 764.3,823.8 757.1,820.6 759.9,827.9 761.4,826.5 801.0,868.2"/>
<polygon points="855.4,179.3 817.0,112.0 818.8,111.0 812.6,106.2 813.6,113.9 815.3,112.9 853.8,180.3"/>
<polygon points="855.4,232.2 812.4,159.4 814.2,158.4 807.9,153.7 809.0,161.4 810.8,160.4 853.8,233.2"/>
<polygon points="855.4,285.1 811.2,212.7 812.9,211.7 806.6,207.1 807.8,214.8 809.6,213.7 853.8,286.1"/>
<polygon points="855.4,338.0 811.2,265.4 812.9,264.3 806.6,259.7 807.8,267.4 809.6,266.3 853.8,339.0"/>
<polygon points="855.4,390.9 810.0,319.2 811.7,318.1 805.3,313.6 806.6,321.3 808.4,320.2 853.8,391.9"/>
<polygon points="855.4,443.8 814.0,374.7 815.8,373.6 809.5,369.0 810.6,376.7 812.4,375.7 853.8,444.8"/>
<polygon points="855.4,496.7 813.1,420.9 814.9,419.9 808.8,415.0 809.7,422.8 811.4,421.8 853.8,497.7"/>
<polygon points="855.5,549.7 819.3,473.2 821.2,472.3 815.4,467.1 815.8,474.9 817.6,474.0 853.7,550.5"/>
<polygon points="855.5,602.6 826.9,536.5 828.8,535.7 823.2,530.3 823.3,538.1 825.1,537.3 853.7,603.4"/>
<polygon points="855.5,655.5 828.2,598.7 830.1,597.8 824.3,592.6 824.7,600.4 826.5,599.5 853.7,656.3"/>
<polygon points="855.4,708.4 832.2,665.0 834.0,664.1 828.0,659.1 828.8,666.9 830.6,665.9 853.8,709.2"/>
<polygon points="855.4,761.2 823.8,716.6 825.5,715.4 818.9,711.3 820.6,718.9 822.2,717.7 853.8,762.2"/>
<polygon points="855.3,814.0 822.2,772.3 823.8,771.0 817.0,767.2 819.1,774.7 820.7,773.4 853.9,815.2"/>
<polygon points="855.3,866.9 816.9,824.5 818.4,823.1 811.4,819.8 814.0,827.1 815.5,825.8 853.9,868.1"/>
<polygon points="908.3,179.3 870.9,113.7 872.7,112.7 866.5,107.9 867.5,115.6 869.2,114.6 906.7,180.3"/>
<polygon points="908.3,232.2 868.0,161.0 869.8,160.0 863.6,155.2 864.6,163.0 866.4,161.9 906.7,233.2"/>
<polygon points="908.3,285.1 865.2,219.5 867.0,218.4 860.5,214.0 861.9,221.7 863.7,220.6 906.7,286.1"/>
<polygon points="908.3,338.0 865.9,271.2 867.7,270.1 861.3,265.6 862.6,273.3 864.3,272.2 906.7,339.0"/>
<polygon points="908.3,390.9 867.1,323.6 868.9,322.5 862.6,318.0 863.8,325.7 865.5,324.6 906.7,391.9"/>
<polygon points="908.3,443.8 869.5,375.1 871.3,374.1 865.2,369.3 866.1,377.0 867.9,376.0 906.7,444.8"/>
<polygon points="908.3,496.8 871.5,427.2 873.3,426.2 867.3,421.3 868.0,429.0 869.8,428.1 906.7,497.6"/>
<polygon points="908.4,549.7 874.6,481.8 876.5,480.9 870.6,475.8 871.1,483.6 872.9,482.7 906.6,550.5"/>
<polygon points="908.4,602.6 878.6,540.0 880.5,539.2 874.7,533.9 875.1,541.7 876.9,540.8 906.6,603.4"/>
<polygon points="908.4,655.5 882.0,601.1 883.8,600.2 878.0,595.0 878.4,602.8 880.3,601.9 906.6,656.3"/>
<polygon points="908.3,708.3 879.1,658.8 880.9,657.8 874.6,653.1 875.7,660.8 877.5,659.8 906.7,709.3"/>
<polygon points="908.3,761.2 875.3,713.4 877.0,712.2 870.4,708.0 872.1,715.6 873.7,714.5 906.7,762.2"/>
<polygon points="908.3,814.0 871.4,765.4 873.0,764.2 866.3,760.3 868.3,767.8 869.9,766.6 906.7,815.2"/>
<polygon points="908.2,866.9 868.4,820.2 869.9,818.9 863.0,815.3 865.4,822.7 866.9,821.4 906.8,868.1"/>
<polygon points="961.2,179.3 924.9,118.0 926.7,117.0 920.4,112.3 921.5,120.0 923.3,119.0 959.6,180.3"/>
<polygon points="961.2,232.2 922.1,167.8 923.8,166.8 917.5,162.2 918.7,169.9 920.4,168.8 959.6,233.2"/>
<polygon points="961.2,285.2 924.3,212.3 926.1,211.3 920.2,206.3 920.7,214.0 922.6,213.1 959.6,286.0"/>
<polygon points="961.2,338.0 922.8,272.4 924.5,271.3 918.3,266.6 919.3,274.3 921.1,273.3 959.6,339.0"/>
<polygon points="961.2,390.9 924.0,325.3 925.8,324.3 919.6,319.5 920.5,327.2 922.3,326.2 959.6,391.9"/>
<polygon points="961.2,443.8 924.0,377.7 925.7,376.6 919.6,371.8 920.5,379.6 922.3,378.6 959.6,444.8"/>
<polygon points="961.2,496.7 926.1,433.2 927.9,432.2 921.8,427.4 922.6,435.1 924.4,434.1 959.6,497.7"/>
<polygon points="961.2,549.7 928.6,488.3 930.5,487.3 924.4,482.4 925.2,490.1 927.0,489.2 959.6,550.5"/>
<polygon points="961.2,602.6 930.3,544.0 932.1,543.0 926.1,538.1 926.8,545.8 928.6,544.9 959.6,603.4"/>
<polygon points="961.2,655.4 931.6,603.8 933.4,602.8 927.2,598.0 928.2,605.8 930.0,604.8 959.6,656.4"/>
<polygon points="961.2,708.3 928.5,657.0 930.3,655.9 923.9,651.5 925.2,659.1 926.9,658.0 959.6,709.3"/>
<polygon points="961.2,761.2 926.3,711.4 928.0,710.2 921.4,706.0 923.0,713.6 924.7,712.5 959.6,762.2"/>
<polygon points="961.2,814.0 924.3,765.4 925.9,764.2 919.2,760.3 921.2,767.8 922.8,766.6 959.6,815.2"/>
<polygon points="961.1,866.9 919.6,817.6 921.2,816.3 914.2,812.7 916.6,820.1 918.1,818.8 959.7,868.1"/>
<polygon points="1014.1,232.2 977.4,169.7 979.2,168.6 973.0,163.9 974.0,171.7 975.8,170.6 1012.5,233.2"/>
<polygon points="1014.1,285.2 978.4,214.8 980.2,213.9 974.3,208.8 974.9,216.6 976.7,215.7 1012.5,286.0"/>
<polygon points="1014.1,338.0 977.9,275.0 979.7,273.9 973.5,269.2 974.5,276.9 976.3,275.9 1012.5,339.0"/>
<polygon points="1014.1,390.9 977.9,327.6 979.7,326.6 973.5,321.8 974.5,329.5 976.2,328.5 1012.5,391.9"/>
<polygon points="1014.1,443.8 978.6,380.5 980.4,379.5 974.3,374.7 975.2,382.4 977.0,381.4 1012.5,444.8"/>
<polygon points="1014.1,496.7 980.8,436.0 982.6,435.0 976.5,430.1 977.3,437.9 979.1,436.9 1012.5,497.7"/>
<polygon points="1014.1,549.6 982.0,491.5 983.8,490.5 977.6,485.7 978.5,493.4 980.3,492.4 1012.5,550.6"/>
<polygon points="1014.1,602.5 983.0,547.2 984.8,546.2 978.6,541.4 979.5,549.1 981.3,548.1 1012.5,603.5"/>
<polygon points="1014.1,655.4 982.6,603.7 984.4,602.6 978.1,598.1 979.3,605.8 981.0,604.7 1012.5,656.4"/>
<polygon points="1014.1,708.3 980.8,657.8 982.6,656.6 976.1,652.3 977.5,659.9 979.3,658.8 1012.5,709.3"/>
<polygon points="1014.1,761.1 976.9,708.9 978.6,707.7 971.9,703.6 973.7,711.2 975.3,710.0 1012.5,762.3"/>
<polygon points="1014.1,814.0 975.2,763.3 976.9,762.0 970.1,758.1 972.1,765.7 973.7,764.4 1012.5,815.2"/>
<polygon points="1014.0,866.9 973.4,817.0 975.0,815.7 968.1,812.0 970.3,819.5 971.9,818.2 1012.6,868.1"/>
</g>
</g>
<circle cx="581.1" cy="418.5" r="3.2" fill="#000" stroke="#fff" stroke-width="0.8"/>
<circle cx="626.3" cy="450.2" r="3.2" fill="#000" stroke="#fff" stroke-width="0.8"/>
<circle cx="577.4" cy="541.5" r="3.2" fill="#000" stroke="#fff" stroke-width="0.8"/>
<circle cx="524.5" cy="563.3" r="3.2" fill="#000" stroke="#fff" stroke-width="0.8"/>
<circle cx="806.3" cy="591.3" r="3.2" fill="#000" stroke="#fff" stroke-width="0.8"/>
<circle cx="643.6" cy="636.3" r="3.2" fill="#000" stroke="#fff" stroke-width="0.8"/>
<circle cx="665.2" cy="644.2" r="3.2" fill="#000" stroke="#fff" stroke-width="0.8"/>
<circle cx="681.5" cy="774.3" r="3.2" fill="#000" stroke="#fff" stroke-width="0.8"/>
<g font-size="11.11" font-weight="bold" fill="#fff" stroke="#000" stroke-width="2.2" stroke-linejoin="round" paint-order="stroke">
<text x="588.10" y="418.50" textLength="180.6" lengthAdjust="spacingAndGlyphs">SHL: 35.2 km/h SE, -0.85 m/s</text>
<text x="633.20" y="450.50" textLength="180.5" lengthAdjust="spacingAndGlyphs">SHT: 37.5 km/h SE, -0.65 m/s</text>
<text x="583.90" y="541.20" textLength="179.6" lengthAdjust="spacingAndGlyphs">LHT: 29.4 km/h SE, -1.09 m/s</text>
<text x="530.60" y="562.90" textLength="179.7" lengthAdjust="spacingAndGlyphs">LHL: 60.0 km/h SE, -0.81 m/s</text>
<text x="812.90" y="590.80" textLength="189.2" lengthAdjust="spacingAndGlyphs">BTO: 54.7 km/h SSE, -2.36 m/s</text>
<text x="650.10" y="636.00" textLength="181.3" lengthAdjust="spacingAndGlyphs">GUT: 54.0 km/h SE, -3.87 m/s</text>
<text x="672.50" y="664.40" textLength="181.8" lengthAdjust="spacingAndGlyphs">TMT: 53.8 km/h SE, -3.47 m/s</text>
<text x="688.10" y="773.80" textLength="177.3" lengthAdjust="spacingAndGlyphs">OHT: 43.7 km/h SE, 1.69 m/s</text>
</g>
<rect x="62.50" y="145.50" width="930.00" height="678.00" fill="none" stroke="#000" stroke-width="1.11"/>
<g font-size="11.11" fill="#000" text-anchor="end">
<text x="54.30" y="211.90">33.86°S</text>
<text x="54.30" y="299.83">33.88°S</text>
<text x="54.30" y="387.76">33.9°S</text>
<text x="54.30" y="475.69">33.92°S</text>
<text x="54.30" y="563.62">33.94°S</text>
<text x="54.30" y="651.55">33.96°S</text>
<text x="54.30" y="739.48">33.98°S</text>
</g>
<g font-size="11.11" fill="#000">
<text transform="translate(79.40 877.47) rotate(-90)">18.25°E</text>
<text transform="translate(262.50 870.40) rotate(-90)">18.3°E</text>
<text transform="translate(445.60 877.47) rotate(-90)">18.35°E</text>
<text transform="translate(628.70 870.40) rotate(-90)">18.4°E</text>
<text transform="translate(811.80 877.47) rotate(-90)">18.45°E</text>
</g>
<g shape-rendering="crispEdges">
<rect x="155.50" y="879.30" width="39.10" height="29.80" fill="#08306b"/>
<rect x="194.00" y="879.30" width="39.60" height="29.80" fill="#084d96"/>
<rect x="233.00" y="879.30" width="39.60" height="29.80" fill="#1b69af"/>
<rect x="272.00" y="879.30" width="40.60" height="29.80" fill="#3686c0"/>
<rect x="312.00" y="879.30" width="39.60" height="29.80" fill="#5aa2cf"/>
<rect x="351.00" y="879.30" width="39.60" height="29.80" fill="#84bcdb"/>
<rect x="390.00" y="879.30" width="39.60" height="29.80" fill="#add0e6"/>
<rect x="429.00" y="879.30" width="39.60" height="29.80" fill="#ccdff1"/>
<rect x="468.00" y="879.30" width="39.60" height="29.80" fill="#e1edf8"/>
<rect x="507.00" y="879.30" width="40.60" height="29.80" fill="#f7fbff"/>
<rect x="547.00" y="879.30" width="39.60" height="29.80" fill="#fee3d6"/>
<rect x="586.00" y="879.30" width="39.60" height="29.80" fill="#fcc4ad"/>
<rect x="625.00" y="879.30" width="39.60" height="29.80" fill="#fca183"/>
<rect x="664.00" y="879.30" width="39.60" height="29.80" fill="#fb7d5d"/>
<rect x="703.00" y="879.30" width="39.60" height="29.80" fill="#f6563d"/>
<rect x="742.00" y="879.30" width="40.60" height="29.80" fill="#e43027"/>
<rect x="782.00" y="879.30" width="39.60" height="29.80" fill="#c2161b"/>
<rect x="821.00" y="879.30" width="39.60" height="29.80" fill="#9d0d14"/>
<rect x="860.00" y="879.30" width="39.50" height="29.80" fill="#67000d"/>
</g>
<rect x="155.50" y="879.30" width="744.00" height="29.80" fill="none" stroke="#000" stroke-width="1.11"/>
<path d="M194.50 909.60v3.00M233.50 909.60v3.00M272.50 909.60v3.00M312.50 909.60v3.00M351.50 909.60v3.00M390.50 909.60v3.00M429.50 909.60v3.00M468.50 909.60v3.00M507.50 909.60v3.00M547.50 909.60v3.00M586.50 909.60v3.00M625.50 909.60v3.00M664.50 909.60v3.00M703.50 909.60v3.00M742.50 909.60v3.00M782.50 909.60v3.00M821.50 909.60v3.00M860.50 909.60v3.00" stroke="#000" stroke-width="0.9" fill="none"/>
<g font-size="13.89" fill="#000" text-anchor="middle">
<text x="155.70" y="929.40">−624</text>
<text x="507.70" y="929.40">−50</text>
<text x="748.70" y="929.40">200</text>
</g>
<path d="M155.50 909.60v5.00M507.50 909.60v5.00M748.50 909.60v5.00" stroke="#000" stroke-width="1.11" fill="none"/>
<text x="527.00" y="948.70" font-size="13.89" fill="#000" text-anchor="middle">Vertical Velocity [cm/s]</text>
<text x="526.80" y="962.30" font-size="11.11" font-style="italic" fill="#000" text-anchor="middle">Values between -50 and +50 cm/s are masked</text>
<g font-size="13.89" fill="#000" text-anchor="middle">
<text x="511.70" y="20.30">Boundary Layer Wind Direction + Convergence</text>
<text x="511.70" y="36.30">Valid 1400 LST (1200Z) THU 16 Oct 2025 [24hrFcst@1615z]</text>
<text x="511.70" y="52.30">FDV replot - DrJack BLIPMAP from RASP 1.3km GFSA-Initiated WRF-ARW model</text>
</g>
</svg>
</body></html>
